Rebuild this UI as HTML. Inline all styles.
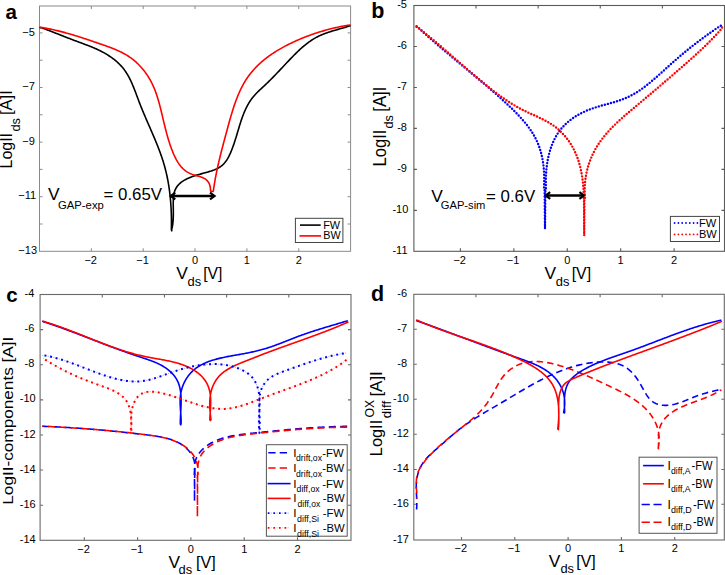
<!DOCTYPE html>
<html><head><meta charset="utf-8"><style>
html,body{margin:0;padding:0;background:#fff;width:725px;height:575px;overflow:hidden;}
svg{display:block;}
text{font-family:"Liberation Sans",sans-serif;fill:#000;}
</style></head><body>
<svg width="725" height="575" viewBox="0 0 725 575">
<rect width="725" height="575" fill="#fff"/>
<rect x="39.5" y="6.0" width="311.10" height="245.30" fill="none" stroke="#8a8a8a" stroke-width="1.0"/>
<path d="M91.35,251.3v-3.0M143.20,251.3v-3.0M195.05,251.3v-3.0M246.90,251.3v-3.0M298.75,251.3v-3.0M91.35,6.0v3.0M143.20,6.0v3.0M195.05,6.0v3.0M246.90,6.0v3.0M298.75,6.0v3.0M39.5,224.00h3.0M350.6,224.00h-3.0M39.5,196.70h3.0M350.6,196.70h-3.0M39.5,169.40h3.0M350.6,169.40h-3.0M39.5,142.10h3.0M350.6,142.10h-3.0M39.5,114.80h3.0M350.6,114.80h-3.0M39.5,87.50h3.0M350.6,87.50h-3.0M39.5,60.20h3.0M350.6,60.20h-3.0M39.5,32.90h3.0M350.6,32.90h-3.0" stroke="#8a8a8a" stroke-width="1.0"/>
<text x="22.35" y="35.50" font-size="11.0">−5</text>
<text x="22.35" y="90.10" font-size="11.0">−7</text>
<text x="22.35" y="144.70" font-size="11.0">−9</text>
<text x="18.35" y="199.30" font-size="11.0">−11</text>
<text x="18.35" y="253.90" font-size="11.0">−13</text>
<text x="90.65" y="263.50" font-size="11.0" text-anchor="middle">−2</text>
<text x="142.50" y="263.50" font-size="11.0" text-anchor="middle">−1</text>
<text x="195.05" y="263.50" font-size="11.0" text-anchor="middle">0</text>
<text x="246.90" y="263.50" font-size="11.0" text-anchor="middle">1</text>
<text x="298.75" y="263.50" font-size="11.0" text-anchor="middle">2</text>
<path d="M39.50,27.80L40.70,27.51 41.65,27.85 42.59,28.18 43.53,28.53 44.47,28.87 45.41,29.22 46.34,29.57 47.28,29.92 48.21,30.27 49.15,30.62 50.08,30.98 51.01,31.34 51.94,31.70 52.87,32.06 53.80,32.42 54.73,32.78 55.66,33.14 56.58,33.51 57.51,33.87 58.44,34.24 59.37,34.60 60.29,34.97 61.22,35.33 62.15,35.70 63.08,36.06 64.01,36.43 64.94,36.79 65.87,37.16 66.80,37.52 67.74,37.88 68.67,38.24 69.61,38.60 70.54,38.96 71.48,39.32 72.42,39.67 73.36,40.03 74.30,40.38 75.25,40.74 76.19,41.09 77.14,41.44 78.08,41.79 79.03,42.15 79.98,42.50 80.92,42.85 81.87,43.21 82.82,43.56 83.77,43.92 84.72,44.28 85.67,44.64 86.62,45.00 87.57,45.36 88.52,45.73 89.47,46.10 90.41,46.48 91.35,46.86 92.30,47.24 93.23,47.63 94.17,48.03 95.10,48.43 96.03,48.84 96.96,49.26 97.88,49.69 98.79,50.12 99.71,50.56 100.61,51.01 101.51,51.47 102.41,51.94 103.29,52.42 104.18,52.90 105.05,53.40 105.92,53.90 106.78,54.41 107.63,54.94 108.48,55.47 109.31,56.01 110.14,56.57 110.96,57.13 111.77,57.70 112.57,58.28 113.36,58.88 114.13,59.48 114.90,60.09 115.66,60.72 116.41,61.35 117.14,62.00 117.86,62.66 118.57,63.33 119.27,64.00 119.95,64.70 120.63,65.40 121.28,66.11 121.93,66.84 122.56,67.58 123.17,68.33 123.77,69.09 124.36,69.86 124.93,70.65 125.49,71.45 126.03,72.25 126.56,73.07 127.07,73.90 127.58,74.74 128.07,75.59 128.55,76.45 129.02,77.32 129.48,78.20 129.93,79.08 130.37,79.97 130.80,80.87 131.22,81.78 131.64,82.69 132.04,83.61 132.44,84.53 132.84,85.46 133.23,86.40 133.61,87.33 133.99,88.28 134.36,89.22 134.73,90.17 135.10,91.13 135.46,92.08 135.82,93.04 136.18,94.00 136.54,94.96 136.90,95.92 137.25,96.88 137.61,97.84 137.97,98.81 138.33,99.77 138.69,100.73 139.05,101.68 139.42,102.64 139.79,103.60 140.16,104.55 140.53,105.50 140.91,106.45 141.29,107.39 141.67,108.34 142.06,109.28 142.44,110.22 142.83,111.16 143.22,112.10 143.62,113.04 144.01,113.97 144.40,114.91 144.80,115.84 145.20,116.77 145.60,117.70 146.00,118.63 146.40,119.56 146.80,120.48 147.20,121.41 147.60,122.34 148.01,123.26 148.41,124.18 148.81,125.11 149.21,126.03 149.62,126.95 150.02,127.87 150.42,128.79 150.82,129.71 151.22,130.64 151.62,131.56 152.02,132.48 152.42,133.40 152.81,134.32 153.20,135.24 153.60,136.16 153.99,137.08 154.38,138.00 154.76,138.92 155.15,139.84 155.53,140.76 155.91,141.69 156.29,142.61 156.66,143.53 157.04,144.46 157.41,145.38 157.77,146.31 158.14,147.24 158.49,148.16 158.85,149.09 159.20,150.02 159.55,150.95 159.90,151.89 160.24,152.82 160.58,153.76 160.91,154.69 161.24,155.63 161.56,156.57 161.88,157.51 162.20,158.45 162.51,159.40 162.81,160.35 163.11,161.29 163.40,162.24 163.69,163.20 163.97,164.15 164.25,165.11 164.52,166.07 164.79,167.03 165.05,167.99 165.30,168.96 165.55,169.93 165.79,170.89 166.03,171.87 166.26,172.84 166.48,173.82 166.70,174.79 166.91,175.77 167.12,176.75 167.32,177.74 167.52,178.72 167.71,179.71 167.90,180.70 168.08,181.68 168.25,182.67 168.42,183.67 168.59,184.66 168.75,185.65 168.90,186.65 169.05,187.65 169.20,188.64 169.34,189.64 169.47,190.64 169.60,191.64 169.73,192.64 169.85,193.65 169.96,194.65 170.07,195.65 170.18,196.66 170.28,197.66 170.38,198.67 170.47,199.67 170.56,200.68 170.64,201.69 170.72,202.69 170.79,203.70 170.86,204.71 170.93,205.71 170.99,206.72 171.05,207.73 171.10,208.74 171.15,209.74 171.20,210.75 171.24,211.76 171.28,212.76 171.31,213.77 171.34,214.78 171.37,215.78 171.39,216.79 171.41,217.79 171.43,218.79 171.44,219.80 171.44,220.80 171.45,221.80 171.45,222.80 171.45,223.80 171.44,224.80 171.43,225.80 171.42,226.79 171.41,227.79 171.39,228.78 171.37,229.77 171.80,230.80L171.80,230.80L171.66,229.52 171.89,228.64 172.10,227.75 172.29,226.85 172.46,225.94 172.61,225.01 172.74,224.08 172.86,223.13 172.96,222.17 173.05,221.21 173.12,220.23 173.18,219.24 173.23,218.24 173.27,217.23 173.30,216.22 173.32,215.19 173.33,214.15 173.33,213.11 173.33,212.05 173.33,210.99 173.31,209.92 173.30,208.84 173.28,207.75 173.27,206.65 173.25,205.55 173.24,204.45 173.23,203.35 173.24,202.25 173.26,201.15 173.29,200.07 173.34,198.99 173.41,197.93 173.50,196.88 173.62,195.85 173.77,194.84 173.95,193.85 174.16,192.89 174.41,191.96 174.70,191.05 175.03,190.18 175.40,189.34 175.81,188.53 176.26,187.75 176.74,187.00 177.25,186.28 177.80,185.58 178.38,184.91 179.00,184.26 179.64,183.64 180.31,183.04 181.01,182.47 181.74,181.92 182.49,181.38 183.27,180.87 184.07,180.38 184.89,179.91 185.73,179.45 186.59,179.01 187.47,178.59 188.37,178.18 189.28,177.79 190.21,177.41 191.15,177.04 192.10,176.69 193.07,176.34 194.04,176.01 195.03,175.68 196.02,175.37 197.02,175.06 198.02,174.76 199.03,174.47 200.04,174.18 201.05,173.89 202.07,173.61 203.08,173.33 204.09,173.05 205.10,172.78 206.11,172.50 207.11,172.22 208.10,171.93 209.09,171.64 210.07,171.34 211.04,171.03 211.99,170.70 212.94,170.37 213.87,170.02 214.79,169.65 215.69,169.26 216.57,168.86 217.44,168.43 218.29,167.98 219.12,167.50 219.92,167.00 220.70,166.47 221.46,165.91 222.20,165.31 222.90,164.68 223.59,164.02 224.24,163.33 224.87,162.60 225.47,161.84 226.05,161.06 226.61,160.25 227.15,159.41 227.67,158.56 228.17,157.68 228.65,156.79 229.11,155.88 229.56,154.96 230.00,154.02 230.42,153.08 230.83,152.13 231.22,151.17 231.61,150.21 231.98,149.24 232.35,148.28 232.71,147.31 233.06,146.34 233.41,145.38 233.75,144.41 234.08,143.44 234.40,142.47 234.72,141.50 235.04,140.53 235.35,139.57 235.65,138.60 235.95,137.63 236.25,136.66 236.55,135.69 236.84,134.73 237.13,133.76 237.42,132.79 237.70,131.83 237.99,130.86 238.28,129.90 238.56,128.94 238.85,127.98 239.14,127.01 239.43,126.06 239.72,125.10 240.02,124.14 240.32,123.19 240.62,122.23 240.93,121.28 241.25,120.33 241.57,119.38 241.89,118.44 242.23,117.50 242.57,116.55 242.92,115.61 243.28,114.68 243.65,113.74 244.02,112.81 244.41,111.89 244.81,110.96 245.22,110.05 245.64,109.13 246.07,108.23 246.51,107.33 246.97,106.44 247.44,105.55 247.92,104.67 248.41,103.80 248.92,102.94 249.44,102.09 249.98,101.25 250.53,100.42 251.10,99.60 251.68,98.79 252.28,97.99 252.90,97.21 253.53,96.44 254.18,95.68 254.84,94.93 255.52,94.19 256.21,93.46 256.92,92.74 257.63,92.03 258.35,91.33 259.08,90.63 259.81,89.94 260.55,89.25 261.29,88.56 262.03,87.87 262.78,87.19 263.52,86.50 264.26,85.81 265.00,85.12 265.74,84.43 266.47,83.73 267.19,83.03 267.92,82.33 268.64,81.63 269.35,80.92 270.07,80.22 270.78,79.51 271.49,78.79 272.19,78.08 272.90,77.36 273.60,76.65 274.30,75.93 275.00,75.21 275.69,74.49 276.39,73.76 277.08,73.04 277.77,72.31 278.46,71.58 279.15,70.85 279.84,70.13 280.53,69.40 281.22,68.67 281.91,67.93 282.59,67.20 283.28,66.47 283.97,65.74 284.66,65.00 285.35,64.27 286.04,63.54 286.73,62.81 287.42,62.07 288.11,61.34 288.80,60.61 289.50,59.88 290.19,59.15 290.89,58.42 291.59,57.69 292.29,56.96 293.00,56.24 293.71,55.51 294.42,54.80 295.13,54.08 295.85,53.37 296.57,52.66 297.29,51.96 298.02,51.26 298.75,50.57 299.48,49.88 300.22,49.20 300.97,48.52 301.72,47.86 302.47,47.20 303.23,46.54 304.00,45.90 304.77,45.26 305.55,44.63 306.33,44.01 307.12,43.40 307.92,42.80 308.72,42.21 309.53,41.63 310.35,41.06 311.17,40.50 312.00,39.95 312.84,39.42 313.69,38.90 314.55,38.39 315.41,37.89 316.28,37.41 317.16,36.94 318.05,36.48 318.95,36.04 319.86,35.62 320.78,35.20 321.70,34.80 322.63,34.41 323.57,34.04 324.51,33.67 325.46,33.32 326.42,32.97 327.38,32.64 328.34,32.31 329.31,31.99 330.28,31.67 331.25,31.37 332.22,31.07 333.20,30.77 334.18,30.48 335.16,30.20 336.13,29.91 337.11,29.63 338.09,29.36 339.06,29.08 340.04,28.81 341.01,28.53 341.98,28.26 342.94,27.98 343.90,27.70 344.85,27.42 345.81,27.14 346.75,26.85 347.69,26.56 348.62,26.27 349.55,25.97 350.60,25.80" fill="none" stroke="#000" stroke-width="1.6" stroke-linejoin="round"/>
<path d="M39.50,27.40L40.46,27.27 41.47,27.43 42.47,27.60 43.48,27.77 44.48,27.95 45.47,28.13 46.47,28.31 47.47,28.50 48.46,28.70 49.45,28.90 50.43,29.10 51.42,29.31 52.40,29.52 53.39,29.74 54.37,29.96 55.34,30.18 56.32,30.41 57.30,30.64 58.27,30.88 59.24,31.12 60.21,31.37 61.18,31.61 62.15,31.87 63.12,32.12 64.08,32.38 65.05,32.64 66.01,32.91 66.97,33.17 67.93,33.44 68.89,33.72 69.85,34.00 70.81,34.27 71.76,34.56 72.72,34.84 73.68,35.13 74.63,35.42 75.58,35.71 76.54,36.01 77.49,36.31 78.44,36.61 79.39,36.91 80.35,37.21 81.30,37.52 82.25,37.83 83.20,38.14 84.15,38.45 85.10,38.76 86.05,39.08 87.00,39.39 87.95,39.71 88.90,40.03 89.85,40.35 90.81,40.68 91.76,41.00 92.71,41.32 93.66,41.65 94.61,41.97 95.57,42.30 96.52,42.63 97.47,42.96 98.43,43.29 99.38,43.62 100.34,43.95 101.30,44.28 102.25,44.61 103.21,44.94 104.17,45.28 105.12,45.62 106.08,45.96 107.03,46.30 107.99,46.64 108.94,46.99 109.89,47.35 110.84,47.71 111.78,48.07 112.72,48.44 113.66,48.82 114.59,49.20 115.52,49.59 116.45,49.98 117.37,50.38 118.29,50.80 119.20,51.21 120.11,51.64 121.01,52.08 121.90,52.53 122.79,52.99 123.67,53.45 124.55,53.93 125.41,54.42 126.27,54.92 127.13,55.44 127.97,55.96 128.80,56.50 129.63,57.06 130.45,57.62 131.25,58.20 132.05,58.80 132.84,59.41 133.62,60.03 134.39,60.66 135.15,61.31 135.90,61.97 136.63,62.64 137.36,63.33 138.08,64.02 138.79,64.73 139.49,65.45 140.18,66.18 140.85,66.92 141.52,67.67 142.18,68.43 142.82,69.19 143.45,69.97 144.08,70.76 144.69,71.56 145.29,72.36 145.88,73.18 146.46,74.00 147.02,74.83 147.58,75.67 148.12,76.51 148.66,77.36 149.18,78.22 149.68,79.09 150.18,79.96 150.66,80.84 151.14,81.72 151.60,82.61 152.04,83.50 152.48,84.40 152.90,85.30 153.31,86.21 153.72,87.12 154.11,88.04 154.49,88.96 154.86,89.89 155.22,90.81 155.57,91.75 155.91,92.68 156.24,93.62 156.57,94.57 156.88,95.51 157.19,96.46 157.50,97.42 157.79,98.37 158.08,99.33 158.36,100.29 158.64,101.26 158.91,102.22 159.18,103.19 159.44,104.16 159.70,105.14 159.95,106.11 160.20,107.09 160.44,108.06 160.69,109.04 160.93,110.02 161.17,111.00 161.40,111.99 161.64,112.97 161.87,113.95 162.10,114.94 162.34,115.92 162.57,116.91 162.80,117.89 163.03,118.88 163.27,119.87 163.50,120.85 163.74,121.84 163.97,122.82 164.21,123.81 164.45,124.79 164.69,125.78 164.93,126.76 165.18,127.74 165.43,128.72 165.68,129.70 165.93,130.68 166.19,131.66 166.45,132.64 166.71,133.61 166.98,134.59 167.25,135.56 167.52,136.53 167.80,137.50 168.09,138.47 168.37,139.43 168.67,140.40 168.97,141.36 169.27,142.32 169.58,143.27 169.90,144.23 170.22,145.18 170.55,146.12 170.88,147.07 171.22,148.01 171.57,148.95 171.93,149.89 172.29,150.82 172.66,151.75 173.04,152.68 173.43,153.60 173.82,154.52 174.23,155.43 174.65,156.33 175.07,157.22 175.52,158.11 175.97,158.98 176.43,159.84 176.92,160.69 177.41,161.53 177.92,162.35 178.45,163.16 178.99,163.95 179.56,164.73 180.14,165.49 180.74,166.23 181.36,166.95 182.00,167.65 182.66,168.32 183.34,168.98 184.04,169.61 184.77,170.22 185.52,170.80 186.30,171.35 187.10,171.88 187.93,172.38 188.78,172.85 189.67,173.30 190.57,173.71 191.51,174.08 192.48,174.43 193.47,174.76 194.47,175.06 195.49,175.35 196.51,175.63 197.54,175.92 198.56,176.20 199.57,176.50 200.56,176.82 201.53,177.16 202.48,177.52 203.39,177.93 204.27,178.37 205.10,178.87 205.88,179.41 206.61,180.02 207.28,180.69 207.89,181.42 208.44,182.21 208.93,183.07 209.35,183.99 209.71,184.97 210.01,186.00 210.23,187.09 210.39,188.24 210.48,189.44 210.49,190.70 210.90,191.40L210.90,191.40L213.10,191.40L213.10,191.40L213.44,190.47 213.58,189.46 213.73,188.44 213.87,187.43 214.02,186.43 214.18,185.42 214.33,184.42 214.49,183.42 214.66,182.43 214.83,181.43 215.00,180.44 215.17,179.45 215.35,178.46 215.53,177.47 215.72,176.48 215.90,175.50 216.09,174.52 216.29,173.54 216.48,172.56 216.68,171.58 216.88,170.61 217.09,169.63 217.29,168.66 217.50,167.69 217.72,166.71 217.93,165.74 218.15,164.78 218.37,163.81 218.59,162.84 218.81,161.87 219.04,160.91 219.27,159.94 219.50,158.98 219.73,158.01 219.96,157.05 220.20,156.09 220.44,155.12 220.68,154.16 220.92,153.20 221.16,152.23 221.41,151.27 221.66,150.31 221.90,149.34 222.15,148.38 222.40,147.42 222.66,146.45 222.91,145.49 223.17,144.52 223.42,143.56 223.68,142.59 223.94,141.63 224.20,140.66 224.46,139.69 224.72,138.72 224.98,137.75 225.24,136.78 225.50,135.81 225.77,134.84 226.03,133.86 226.30,132.88 226.56,131.91 226.83,130.93 227.10,129.95 227.36,128.97 227.63,127.98 227.90,127.00 228.16,126.01 228.43,125.03 228.70,124.04 228.98,123.05 229.25,122.06 229.52,121.07 229.80,120.08 230.08,119.09 230.36,118.10 230.65,117.12 230.93,116.13 231.22,115.14 231.51,114.15 231.81,113.17 232.10,112.19 232.41,111.20 232.71,110.22 233.02,109.24 233.33,108.26 233.65,107.29 233.97,106.32 234.30,105.35 234.63,104.38 234.96,103.41 235.30,102.45 235.65,101.49 236.00,100.53 236.36,99.58 236.72,98.63 237.09,97.69 237.46,96.75 237.84,95.81 238.23,94.88 238.62,93.95 239.02,93.02 239.43,92.10 239.85,91.19 240.27,90.28 240.70,89.38 241.13,88.48 241.58,87.59 242.03,86.70 242.49,85.82 242.96,84.95 243.44,84.08 243.93,83.22 244.42,82.36 244.93,81.51 245.44,80.67 245.97,79.84 246.50,79.01 247.05,78.19 247.60,77.38 248.16,76.57 248.74,75.78 249.32,74.99 249.91,74.21 250.52,73.44 251.13,72.67 251.75,71.92 252.39,71.17 253.03,70.43 253.68,69.69 254.34,68.97 255.01,68.25 255.68,67.53 256.37,66.83 257.07,66.13 257.77,65.44 258.48,64.76 259.20,64.08 259.92,63.42 260.66,62.75 261.40,62.10 262.15,61.45 262.91,60.81 263.67,60.18 264.44,59.55 265.22,58.93 266.00,58.31 266.80,57.71 267.59,57.11 268.40,56.51 269.21,55.92 270.02,55.34 270.84,54.77 271.67,54.20 272.50,53.63 273.34,53.08 274.19,52.53 275.04,51.98 275.89,51.44 276.75,50.91 277.61,50.39 278.48,49.86 279.35,49.35 280.23,48.84 281.11,48.34 282.00,47.84 282.88,47.35 283.78,46.86 284.67,46.38 285.57,45.90 286.48,45.43 287.38,44.97 288.29,44.51 289.20,44.05 290.12,43.60 291.04,43.16 291.96,42.72 292.88,42.28 293.80,41.85 294.73,41.43 295.66,41.01 296.59,40.59 297.52,40.18 298.45,39.78 299.38,39.38 300.32,38.98 301.26,38.59 302.20,38.20 303.14,37.82 304.08,37.44 305.02,37.07 305.96,36.70 306.91,36.34 307.86,35.98 308.80,35.63 309.75,35.28 310.70,34.93 311.65,34.59 312.61,34.26 313.56,33.93 314.51,33.60 315.47,33.28 316.43,32.97 317.38,32.65 318.34,32.35 319.30,32.05 320.26,31.75 321.23,31.46 322.19,31.17 323.15,30.89 324.12,30.61 325.08,30.33 326.05,30.07 327.01,29.80 327.98,29.54 328.95,29.29 329.92,29.04 330.89,28.79 331.86,28.55 332.83,28.32 333.80,28.09 334.78,27.86 335.75,27.64 336.72,27.42 337.70,27.21 338.67,27.00 339.65,26.80 340.62,26.60 341.60,26.41 342.58,26.22 343.56,26.04 344.53,25.86 345.51,25.69 346.49,25.52 347.47,25.36 348.45,25.20 349.43,25.04 350.60,25.20" fill="none" stroke="#f00" stroke-width="1.6" stroke-linejoin="round"/>
<path d="M171.5,196H214" stroke="#000" stroke-width="2.4"/>
<path d="M175.3,192.6L170.7,196L175.3,199.4M210,192.6L214.6,196L210,199.4" fill="none" stroke="#000" stroke-width="2.1"/>
<text x="48.00" y="199.70" font-size="16.8" textLength="11.6" lengthAdjust="spacingAndGlyphs">V</text>
<text x="58.00" y="209.00" font-size="11.2" textLength="45.8" lengthAdjust="spacingAndGlyphs">GAP-exp</text>
<text x="103.50" y="199.70" font-size="16.8" textLength="58.6" lengthAdjust="spacingAndGlyphs">= 0.65V</text>
<rect x="295.4" y="218.3" width="47.5" height="24.2" fill="#fff" stroke="#444" stroke-width="1"/>
<path d="M300,225.1H320.7" stroke="#000" stroke-width="1.6"/>
<path d="M299.5,235.9H321" stroke="#f00" stroke-width="1.6"/>
<text x="323.20" y="228.60" font-size="11.5" textLength="16.9" lengthAdjust="spacingAndGlyphs">FW</text>
<text x="323.20" y="239.30" font-size="11.5" textLength="17.4" lengthAdjust="spacingAndGlyphs">BW</text>
<g transform="translate(12.2,168.5) rotate(-90)">
<text x="0.00" y="0.00" font-size="17" textLength="35.5" lengthAdjust="spacingAndGlyphs">LogII</text>
<text x="36.90" y="7.80" font-size="13" textLength="13.6" lengthAdjust="spacingAndGlyphs">ds</text>
<text x="53.50" y="0.00" font-size="17" textLength="24.8" lengthAdjust="spacingAndGlyphs">[A]I</text>
</g>
<text x="176.30" y="279.30" font-size="16.8" textLength="11.6" lengthAdjust="spacingAndGlyphs">V</text>
<text x="187.60" y="285.60" font-size="13" textLength="13.6" lengthAdjust="spacingAndGlyphs">ds</text>
<text x="203.20" y="279.30" font-size="16.8" textLength="19.2" lengthAdjust="spacingAndGlyphs">[V]</text>
<text x="5.5" y="18.9" font-size="20.5" font-weight="bold">a</text>
<rect x="413.9" y="5.5" width="310.60" height="245.80" fill="none" stroke="#5a5a5a" stroke-width="1.1"/>
<path d="M460.39,251.3v-3.0M513.82,251.3v-3.0M567.25,251.3v-3.0M620.68,251.3v-3.0M674.11,251.3v-3.0M476.02,5.5v3.0M538.14,5.5v3.0M600.26,5.5v3.0M662.38,5.5v3.0M413.9,210.35h3.0M724.5,210.35h-3.0M413.9,169.38h3.0M724.5,169.38h-3.0M413.9,128.41h3.0M724.5,128.41h-3.0M413.9,87.44h3.0M724.5,87.44h-3.0M413.9,46.47h3.0M724.5,46.47h-3.0" stroke="#5a5a5a" stroke-width="1.1"/>
<text x="392.45" y="253.92" font-size="11.0">-11</text>
<text x="392.45" y="212.95" font-size="11.0">-10</text>
<text x="397.15" y="171.98" font-size="11.0">-9</text>
<text x="397.15" y="131.01" font-size="11.0">-8</text>
<text x="397.15" y="90.04" font-size="11.0">-7</text>
<text x="397.15" y="49.07" font-size="11.0">-6</text>
<text x="397.15" y="8.10" font-size="11.0">-5</text>
<text x="459.69" y="263.50" font-size="11.0" text-anchor="middle">−2</text>
<text x="513.12" y="263.50" font-size="11.0" text-anchor="middle">−1</text>
<text x="567.25" y="263.50" font-size="11.0" text-anchor="middle">0</text>
<text x="620.68" y="263.50" font-size="11.0" text-anchor="middle">1</text>
<text x="674.11" y="263.50" font-size="11.0" text-anchor="middle">2</text>
<path d="M416.60,26.80L417.68,27.09 418.42,27.78 419.16,28.47 419.90,29.16 420.64,29.84 421.38,30.53 422.13,31.21 422.88,31.89 423.62,32.57 424.37,33.25 425.12,33.92 425.87,34.60 426.62,35.27 427.38,35.94 428.13,36.61 428.89,37.28 429.64,37.95 430.40,38.62 431.16,39.28 431.92,39.95 432.68,40.61 433.44,41.27 434.20,41.93 434.96,42.59 435.72,43.25 436.49,43.91 437.25,44.57 438.02,45.22 438.78,45.88 439.55,46.53 440.32,47.18 441.08,47.84 441.85,48.49 442.62,49.14 443.39,49.79 444.16,50.44 444.93,51.09 445.70,51.74 446.48,52.38 447.25,53.03 448.02,53.68 448.80,54.32 449.57,54.97 450.34,55.61 451.12,56.26 451.89,56.90 452.67,57.55 453.44,58.19 454.22,58.83 454.99,59.48 455.77,60.12 456.55,60.76 457.32,61.40 458.10,62.05 458.88,62.69 459.65,63.33 460.43,63.97 461.21,64.61 461.99,65.26 462.76,65.90 463.54,66.54 464.32,67.18 465.09,67.82 465.87,68.47 466.65,69.11 467.43,69.75 468.20,70.39 468.98,71.04 469.76,71.68 470.53,72.32 471.31,72.97 472.09,73.61 472.86,74.25 473.64,74.90 474.41,75.54 475.19,76.19 475.96,76.84 476.74,77.48 477.51,78.13 478.28,78.78 479.06,79.43 479.83,80.08 480.60,80.73 481.37,81.38 482.14,82.03 482.91,82.68 483.68,83.34 484.45,83.99 485.22,84.65 485.99,85.30 486.76,85.96 487.52,86.62 488.29,87.27 489.06,87.93 489.82,88.59 490.58,89.26 491.35,89.92 492.11,90.58 492.87,91.25 493.63,91.92 494.39,92.58 495.15,93.25 495.91,93.92 496.67,94.59 497.42,95.27 498.18,95.94 498.93,96.62 499.68,97.29 500.44,97.97 501.19,98.65 501.94,99.33 502.69,100.02 503.43,100.70 504.18,101.39 504.93,102.08 505.67,102.76 506.41,103.46 507.16,104.15 507.90,104.84 508.64,105.54 509.37,106.24 510.11,106.94 510.84,107.64 511.57,108.35 512.30,109.05 513.03,109.76 513.75,110.48 514.47,111.19 515.19,111.91 515.90,112.63 516.61,113.35 517.31,114.08 518.01,114.81 518.71,115.54 519.40,116.28 520.09,117.02 520.76,117.76 521.44,118.51 522.11,119.26 522.77,120.01 523.42,120.77 524.07,121.53 524.71,122.30 525.35,123.07 525.97,123.85 526.59,124.63 527.21,125.42 527.81,126.21 528.40,127.00 528.99,127.80 529.57,128.60 530.14,129.41 530.69,130.23 531.24,131.05 531.78,131.88 532.31,132.71 532.83,133.55 533.34,134.39 533.84,135.24 534.32,136.10 534.80,136.96 535.26,137.82 535.71,138.70 536.15,139.58 536.58,140.47 537.00,141.36 537.40,142.26 537.79,143.17 538.16,144.08 538.53,145.00 538.88,145.93 539.22,146.86 539.54,147.80 539.86,148.75 540.16,149.70 540.45,150.65 540.73,151.61 540.99,152.58 541.25,153.55 541.49,154.53 541.72,155.51 541.95,156.49 542.16,157.48 542.36,158.48 542.54,159.47 542.72,160.47 542.89,161.48 543.04,162.49 543.19,163.50 543.33,164.51 543.45,165.53 543.57,166.55 543.68,167.57 543.77,168.60 543.86,169.62 543.94,170.65 544.01,171.68 544.06,172.71 544.11,173.75 544.16,174.78 544.19,175.82 544.21,176.86 544.23,177.90 544.23,178.93 544.23,179.97 544.22,181.01 544.21,182.05 544.18,183.09 544.15,184.13 544.11,185.17 544.06,186.21 544.00,187.25 543.94,188.29 543.87,189.32 544.60,190.00L544.60,190.00L545.00,228.50 545.40,190.00L545.40,190.00L545.93,188.92 545.89,187.96 545.86,186.99 545.84,186.01 545.82,185.03 545.80,184.05 545.80,183.06 545.80,182.07 545.80,181.08 545.82,180.08 545.84,179.08 545.86,178.08 545.90,177.07 545.94,176.07 545.99,175.06 546.05,174.05 546.11,173.04 546.19,172.02 546.27,171.01 546.36,170.00 546.46,168.98 546.56,167.97 546.68,166.96 546.81,165.95 546.94,164.94 547.08,163.92 547.24,162.92 547.40,161.91 547.57,160.90 547.75,159.90 547.95,158.90 548.15,157.90 548.36,156.91 548.59,155.92 548.82,154.93 549.07,153.95 549.32,152.97 549.59,151.99 549.87,151.02 550.16,150.06 550.46,149.10 550.77,148.14 551.10,147.19 551.44,146.25 551.79,145.31 552.15,144.38 552.53,143.46 552.92,142.54 553.32,141.63 553.73,140.73 554.16,139.83 554.60,138.95 555.06,138.07 555.52,137.20 556.01,136.34 556.50,135.49 557.01,134.65 557.54,133.82 558.08,132.99 558.63,132.18 559.20,131.38 559.78,130.59 560.38,129.81 560.99,129.04 561.62,128.29 562.27,127.54 562.93,126.81 563.60,126.09 564.29,125.37 564.99,124.68 565.71,123.99 566.44,123.31 567.18,122.65 567.93,122.00 568.70,121.35 569.47,120.73 570.26,120.11 571.06,119.50 571.87,118.91 572.69,118.32 573.52,117.75 574.36,117.19 575.21,116.64 576.07,116.10 576.93,115.58 577.81,115.06 578.69,114.56 579.58,114.07 580.48,113.59 581.38,113.12 582.29,112.67 583.21,112.22 584.13,111.79 585.05,111.37 585.99,110.96 586.92,110.56 587.86,110.17 588.81,109.79 589.76,109.43 590.71,109.07 591.66,108.73 592.62,108.39 593.58,108.06 594.55,107.74 595.51,107.43 596.48,107.12 597.45,106.82 598.42,106.53 599.39,106.24 600.36,105.96 601.34,105.68 602.31,105.41 603.28,105.14 604.26,104.87 605.23,104.61 606.20,104.34 607.17,104.08 608.14,103.81 609.11,103.55 610.08,103.28 611.04,103.02 612.01,102.75 612.97,102.47 613.93,102.19 614.88,101.91 615.83,101.62 616.78,101.32 617.73,101.02 618.67,100.71 619.60,100.39 620.53,100.06 621.46,99.72 622.39,99.38 623.31,99.02 624.22,98.65 625.13,98.28 626.03,97.90 626.93,97.50 627.83,97.10 628.72,96.68 629.60,96.25 630.48,95.82 631.36,95.37 632.23,94.91 633.09,94.44 633.95,93.95 634.80,93.46 635.65,92.96 636.49,92.44 637.33,91.91 638.16,91.38 638.99,90.83 639.81,90.28 640.63,89.72 641.44,89.15 642.25,88.57 643.06,87.99 643.86,87.39 644.66,86.79 645.46,86.19 646.25,85.58 647.04,84.96 647.82,84.34 648.61,83.71 649.39,83.08 650.16,82.44 650.94,81.80 651.71,81.15 652.48,80.51 653.25,79.85 654.02,79.20 654.78,78.54 655.55,77.87 656.31,77.21 657.07,76.54 657.83,75.87 658.58,75.20 659.34,74.53 660.10,73.85 660.85,73.17 661.60,72.49 662.36,71.82 663.11,71.14 663.86,70.45 664.61,69.77 665.36,69.09 666.11,68.41 666.87,67.73 667.62,67.05 668.37,66.38 669.12,65.70 669.87,65.02 670.63,64.35 671.38,63.68 672.14,63.01 672.89,62.34 673.65,61.67 674.41,61.01 675.17,60.34 675.93,59.68 676.69,59.02 677.45,58.37 678.21,57.71 678.98,57.06 679.74,56.40 680.51,55.75 681.28,55.11 682.04,54.46 682.81,53.82 683.58,53.17 684.36,52.53 685.13,51.89 685.90,51.26 686.68,50.62 687.45,49.99 688.23,49.36 689.01,48.73 689.79,48.10 690.57,47.48 691.35,46.86 692.14,46.23 692.92,45.62 693.71,45.00 694.50,44.38 695.29,43.77 696.08,43.16 696.87,42.55 697.67,41.94 698.46,41.34 699.26,40.73 700.06,40.13 700.86,39.53 701.66,38.94 702.47,38.34 703.27,37.75 704.08,37.16 704.89,36.57 705.70,35.98 706.51,35.40 707.32,34.82 708.14,34.23 708.95,33.66 709.77,33.08 710.59,32.50 711.42,31.93 712.24,31.36 713.07,30.79 713.90,30.23 714.73,29.66 715.56,29.10 716.39,28.54 717.23,27.98 718.06,27.43 718.90,26.87 719.75,26.32 720.59,25.77 721.80,26.00" fill="none" stroke="#00f" stroke-width="1.0" stroke-opacity="0.18"/>
<path d="M416.60,26.80L417.68,27.09 418.42,27.78 419.16,28.47 419.90,29.16 420.64,29.84 421.38,30.53 422.13,31.21 422.88,31.89 423.62,32.57 424.37,33.25 425.12,33.92 425.87,34.60 426.62,35.27 427.38,35.94 428.13,36.61 428.89,37.28 429.64,37.95 430.40,38.62 431.16,39.28 431.92,39.95 432.68,40.61 433.44,41.27 434.20,41.93 434.96,42.59 435.72,43.25 436.49,43.91 437.25,44.57 438.02,45.22 438.78,45.88 439.55,46.53 440.32,47.18 441.08,47.84 441.85,48.49 442.62,49.14 443.39,49.79 444.16,50.44 444.93,51.09 445.70,51.74 446.48,52.38 447.25,53.03 448.02,53.68 448.80,54.32 449.57,54.97 450.34,55.61 451.12,56.26 451.89,56.90 452.67,57.55 453.44,58.19 454.22,58.83 454.99,59.48 455.77,60.12 456.55,60.76 457.32,61.40 458.10,62.05 458.88,62.69 459.65,63.33 460.43,63.97 461.21,64.61 461.99,65.26 462.76,65.90 463.54,66.54 464.32,67.18 465.09,67.82 465.87,68.47 466.65,69.11 467.43,69.75 468.20,70.39 468.98,71.04 469.76,71.68 470.53,72.32 471.31,72.97 472.09,73.61 472.86,74.25 473.64,74.90 474.41,75.54 475.19,76.19 475.96,76.84 476.74,77.48 477.51,78.13 478.28,78.78 479.06,79.43 479.83,80.08 480.60,80.73 481.37,81.38 482.14,82.03 482.91,82.68 483.68,83.34 484.45,83.99 485.22,84.65 485.99,85.30 486.76,85.96 487.52,86.62 488.29,87.27 489.06,87.93 489.82,88.59 490.58,89.26 491.35,89.92 492.11,90.58 492.87,91.25 493.63,91.92 494.39,92.58 495.15,93.25 495.91,93.92 496.67,94.59 497.42,95.27 498.18,95.94 498.93,96.62 499.68,97.29 500.44,97.97 501.19,98.65 501.94,99.33 502.69,100.02 503.43,100.70 504.18,101.39 504.93,102.08 505.67,102.76 506.41,103.46 507.16,104.15 507.90,104.84 508.64,105.54 509.37,106.24 510.11,106.94 510.84,107.64 511.57,108.35 512.30,109.05 513.03,109.76 513.75,110.48 514.47,111.19 515.19,111.91 515.90,112.63 516.61,113.35 517.31,114.08 518.01,114.81 518.71,115.54 519.40,116.28 520.09,117.02 520.76,117.76 521.44,118.51 522.11,119.26 522.77,120.01 523.42,120.77 524.07,121.53 524.71,122.30 525.35,123.07 525.97,123.85 526.59,124.63 527.21,125.42 527.81,126.21 528.40,127.00 528.99,127.80 529.57,128.60 530.14,129.41 530.69,130.23 531.24,131.05 531.78,131.88 532.31,132.71 532.83,133.55 533.34,134.39 533.84,135.24 534.32,136.10 534.80,136.96 535.26,137.82 535.71,138.70 536.15,139.58 536.58,140.47 537.00,141.36 537.40,142.26 537.79,143.17 538.16,144.08 538.53,145.00 538.88,145.93 539.22,146.86 539.54,147.80 539.86,148.75 540.16,149.70 540.45,150.65 540.73,151.61 540.99,152.58 541.25,153.55 541.49,154.53 541.72,155.51 541.95,156.49 542.16,157.48 542.36,158.48 542.54,159.47 542.72,160.47 542.89,161.48 543.04,162.49 543.19,163.50 543.33,164.51 543.45,165.53 543.57,166.55 543.68,167.57 543.77,168.60 543.86,169.62 543.94,170.65 544.01,171.68 544.06,172.71 544.11,173.75 544.16,174.78 544.19,175.82 544.21,176.86 544.23,177.90 544.23,178.93 544.23,179.97 544.22,181.01 544.21,182.05 544.18,183.09 544.15,184.13 544.11,185.17 544.06,186.21 544.00,187.25 543.94,188.29 543.87,189.32 544.60,190.00L544.60,190.00L545.00,228.50 545.40,190.00L545.40,190.00L545.93,188.92 545.89,187.96 545.86,186.99 545.84,186.01 545.82,185.03 545.80,184.05 545.80,183.06 545.80,182.07 545.80,181.08 545.82,180.08 545.84,179.08 545.86,178.08 545.90,177.07 545.94,176.07 545.99,175.06 546.05,174.05 546.11,173.04 546.19,172.02 546.27,171.01 546.36,170.00 546.46,168.98 546.56,167.97 546.68,166.96 546.81,165.95 546.94,164.94 547.08,163.92 547.24,162.92 547.40,161.91 547.57,160.90 547.75,159.90 547.95,158.90 548.15,157.90 548.36,156.91 548.59,155.92 548.82,154.93 549.07,153.95 549.32,152.97 549.59,151.99 549.87,151.02 550.16,150.06 550.46,149.10 550.77,148.14 551.10,147.19 551.44,146.25 551.79,145.31 552.15,144.38 552.53,143.46 552.92,142.54 553.32,141.63 553.73,140.73 554.16,139.83 554.60,138.95 555.06,138.07 555.52,137.20 556.01,136.34 556.50,135.49 557.01,134.65 557.54,133.82 558.08,132.99 558.63,132.18 559.20,131.38 559.78,130.59 560.38,129.81 560.99,129.04 561.62,128.29 562.27,127.54 562.93,126.81 563.60,126.09 564.29,125.37 564.99,124.68 565.71,123.99 566.44,123.31 567.18,122.65 567.93,122.00 568.70,121.35 569.47,120.73 570.26,120.11 571.06,119.50 571.87,118.91 572.69,118.32 573.52,117.75 574.36,117.19 575.21,116.64 576.07,116.10 576.93,115.58 577.81,115.06 578.69,114.56 579.58,114.07 580.48,113.59 581.38,113.12 582.29,112.67 583.21,112.22 584.13,111.79 585.05,111.37 585.99,110.96 586.92,110.56 587.86,110.17 588.81,109.79 589.76,109.43 590.71,109.07 591.66,108.73 592.62,108.39 593.58,108.06 594.55,107.74 595.51,107.43 596.48,107.12 597.45,106.82 598.42,106.53 599.39,106.24 600.36,105.96 601.34,105.68 602.31,105.41 603.28,105.14 604.26,104.87 605.23,104.61 606.20,104.34 607.17,104.08 608.14,103.81 609.11,103.55 610.08,103.28 611.04,103.02 612.01,102.75 612.97,102.47 613.93,102.19 614.88,101.91 615.83,101.62 616.78,101.32 617.73,101.02 618.67,100.71 619.60,100.39 620.53,100.06 621.46,99.72 622.39,99.38 623.31,99.02 624.22,98.65 625.13,98.28 626.03,97.90 626.93,97.50 627.83,97.10 628.72,96.68 629.60,96.25 630.48,95.82 631.36,95.37 632.23,94.91 633.09,94.44 633.95,93.95 634.80,93.46 635.65,92.96 636.49,92.44 637.33,91.91 638.16,91.38 638.99,90.83 639.81,90.28 640.63,89.72 641.44,89.15 642.25,88.57 643.06,87.99 643.86,87.39 644.66,86.79 645.46,86.19 646.25,85.58 647.04,84.96 647.82,84.34 648.61,83.71 649.39,83.08 650.16,82.44 650.94,81.80 651.71,81.15 652.48,80.51 653.25,79.85 654.02,79.20 654.78,78.54 655.55,77.87 656.31,77.21 657.07,76.54 657.83,75.87 658.58,75.20 659.34,74.53 660.10,73.85 660.85,73.17 661.60,72.49 662.36,71.82 663.11,71.14 663.86,70.45 664.61,69.77 665.36,69.09 666.11,68.41 666.87,67.73 667.62,67.05 668.37,66.38 669.12,65.70 669.87,65.02 670.63,64.35 671.38,63.68 672.14,63.01 672.89,62.34 673.65,61.67 674.41,61.01 675.17,60.34 675.93,59.68 676.69,59.02 677.45,58.37 678.21,57.71 678.98,57.06 679.74,56.40 680.51,55.75 681.28,55.11 682.04,54.46 682.81,53.82 683.58,53.17 684.36,52.53 685.13,51.89 685.90,51.26 686.68,50.62 687.45,49.99 688.23,49.36 689.01,48.73 689.79,48.10 690.57,47.48 691.35,46.86 692.14,46.23 692.92,45.62 693.71,45.00 694.50,44.38 695.29,43.77 696.08,43.16 696.87,42.55 697.67,41.94 698.46,41.34 699.26,40.73 700.06,40.13 700.86,39.53 701.66,38.94 702.47,38.34 703.27,37.75 704.08,37.16 704.89,36.57 705.70,35.98 706.51,35.40 707.32,34.82 708.14,34.23 708.95,33.66 709.77,33.08 710.59,32.50 711.42,31.93 712.24,31.36 713.07,30.79 713.90,30.23 714.73,29.66 715.56,29.10 716.39,28.54 717.23,27.98 718.06,27.43 718.90,26.87 719.75,26.32 720.59,25.77 721.80,26.00" fill="none" stroke="#00f" stroke-width="2.4" stroke-linecap="round" stroke-dasharray="0 3.15"/>
<path d="M416.60,26.20L417.30,27.00 418.09,27.62 418.87,28.23 419.66,28.85 420.45,29.47 421.23,30.10 422.02,30.72 422.80,31.35 423.59,31.97 424.37,32.60 425.15,33.23 425.93,33.86 426.71,34.50 427.49,35.13 428.26,35.77 429.04,36.41 429.82,37.05 430.59,37.69 431.37,38.33 432.14,38.97 432.91,39.62 433.68,40.27 434.46,40.91 435.23,41.56 436.00,42.21 436.77,42.86 437.54,43.51 438.30,44.16 439.07,44.82 439.84,45.47 440.61,46.13 441.37,46.78 442.14,47.44 442.90,48.10 443.67,48.76 444.43,49.41 445.20,50.07 445.96,50.73 446.73,51.39 447.49,52.06 448.25,52.72 449.01,53.38 449.78,54.04 450.54,54.70 451.30,55.37 452.06,56.03 452.83,56.70 453.59,57.36 454.35,58.02 455.11,58.69 455.87,59.35 456.63,60.02 457.39,60.68 458.16,61.35 458.92,62.01 459.68,62.68 460.44,63.34 461.20,64.00 461.96,64.67 462.72,65.33 463.48,66.00 464.25,66.66 465.01,67.32 465.77,67.98 466.53,68.65 467.30,69.31 468.06,69.97 468.82,70.63 469.59,71.29 470.35,71.95 471.11,72.61 471.88,73.27 472.64,73.92 473.41,74.58 474.17,75.24 474.94,75.89 475.71,76.54 476.47,77.20 477.24,77.85 478.01,78.50 478.78,79.15 479.55,79.80 480.32,80.44 481.10,81.09 481.87,81.73 482.64,82.37 483.42,83.01 484.19,83.65 484.97,84.29 485.75,84.92 486.53,85.55 487.31,86.18 488.10,86.81 488.88,87.43 489.67,88.06 490.46,88.68 491.25,89.30 492.04,89.91 492.83,90.52 493.62,91.13 494.42,91.74 495.22,92.34 496.02,92.94 496.82,93.54 497.63,94.13 498.43,94.72 499.24,95.31 500.05,95.89 500.87,96.48 501.68,97.05 502.50,97.62 503.32,98.19 504.15,98.76 504.97,99.32 505.80,99.88 506.63,100.43 507.47,100.98 508.30,101.52 509.14,102.06 509.98,102.60 510.83,103.13 511.68,103.66 512.53,104.18 513.38,104.70 514.24,105.21 515.10,105.72 515.97,106.22 516.84,106.72 517.71,107.21 518.58,107.70 519.46,108.18 520.34,108.66 521.23,109.13 522.12,109.59 523.01,110.05 523.91,110.51 524.81,110.96 525.71,111.40 526.62,111.83 527.53,112.27 528.44,112.69 529.36,113.12 530.28,113.54 531.20,113.95 532.12,114.37 533.05,114.78 533.97,115.20 534.90,115.61 535.82,116.03 536.74,116.44 537.66,116.86 538.58,117.28 539.50,117.71 540.41,118.14 541.32,118.58 542.23,119.02 543.14,119.46 544.04,119.92 544.93,120.38 545.82,120.85 546.70,121.33 547.58,121.82 548.45,122.33 549.31,122.84 550.17,123.36 551.02,123.90 551.86,124.45 552.69,125.01 553.51,125.59 554.33,126.18 555.13,126.79 555.92,127.41 556.71,128.04 557.48,128.68 558.25,129.34 559.00,130.00 559.75,130.68 560.48,131.38 561.21,132.08 561.92,132.79 562.62,133.52 563.31,134.25 563.99,135.00 564.66,135.76 565.31,136.52 565.96,137.30 566.59,138.09 567.21,138.88 567.82,139.69 568.41,140.50 569.00,141.32 569.57,142.15 570.12,142.99 570.67,143.84 571.20,144.69 571.71,145.56 572.22,146.43 572.71,147.30 573.18,148.19 573.65,149.08 574.10,149.97 574.54,150.88 574.96,151.79 575.38,152.70 575.78,153.62 576.17,154.55 576.54,155.48 576.91,156.42 577.26,157.36 577.60,158.31 577.94,159.26 578.26,160.21 578.57,161.17 578.86,162.14 579.15,163.11 579.43,164.08 579.70,165.05 579.95,166.03 580.20,167.01 580.44,168.00 580.67,168.98 580.89,169.97 581.09,170.97 581.30,171.96 581.49,172.96 581.67,173.95 581.84,174.95 582.01,175.95 582.17,176.96 582.31,177.96 582.46,178.96 582.59,179.97 582.71,180.97 582.83,181.98 582.94,182.98 583.05,183.99 583.14,184.99 583.23,186.00 583.32,187.00 583.39,188.00 583.47,189.00 583.53,190.00 583.59,191.00 583.64,192.00 583.69,192.99 583.73,193.99 583.77,194.98 583.80,195.97 583.82,196.95 583.84,197.94 583.86,198.92 584.00,200.00L584.00,200.00L584.20,235.60 584.40,200.00L584.40,200.00L585.15,199.42 585.05,198.35 584.96,197.29 584.89,196.23 584.82,195.17 584.77,194.11 584.73,193.05 584.71,192.00 584.70,190.95 584.69,189.90 584.71,188.86 584.73,187.82 584.77,186.78 584.82,185.74 584.88,184.71 584.95,183.68 585.04,182.65 585.14,181.63 585.25,180.61 585.37,179.59 585.50,178.58 585.65,177.57 585.81,176.56 585.98,175.56 586.16,174.56 586.35,173.57 586.55,172.58 586.77,171.59 587.00,170.61 587.24,169.63 587.49,168.66 587.75,167.69 588.02,166.73 588.30,165.77 588.60,164.81 588.90,163.86 589.22,162.92 589.55,161.98 589.89,161.04 590.24,160.11 590.60,159.18 590.97,158.26 591.35,157.35 591.74,156.44 592.15,155.53 592.56,154.63 592.99,153.74 593.42,152.85 593.86,151.97 594.32,151.09 594.78,150.22 595.26,149.35 595.75,148.49 596.24,147.64 596.75,146.79 597.26,145.95 597.79,145.12 598.32,144.29 598.87,143.47 599.42,142.65 599.98,141.84 600.55,141.04 601.13,140.24 601.72,139.44 602.32,138.65 602.93,137.87 603.54,137.09 604.16,136.32 604.79,135.55 605.43,134.79 606.07,134.03 606.72,133.28 607.38,132.53 608.04,131.79 608.71,131.05 609.39,130.31 610.07,129.58 610.76,128.85 611.46,128.13 612.16,127.41 612.86,126.69 613.58,125.98 614.29,125.27 615.01,124.57 615.74,123.87 616.47,123.17 617.20,122.47 617.94,121.78 618.68,121.09 619.43,120.40 620.18,119.72 620.93,119.04 621.69,118.36 622.45,117.68 623.21,117.01 623.98,116.33 624.74,115.66 625.51,114.99 626.28,114.33 627.06,113.66 627.83,113.00 628.61,112.34 629.39,111.68 630.16,111.02 630.94,110.36 631.73,109.70 632.51,109.05 633.29,108.39 634.07,107.74 634.85,107.08 635.63,106.43 636.42,105.78 637.20,105.13 637.98,104.48 638.76,103.82 639.53,103.17 640.31,102.52 641.09,101.87 641.87,101.22 642.64,100.57 643.42,99.92 644.19,99.27 644.97,98.62 645.74,97.97 646.51,97.32 647.29,96.67 648.06,96.02 648.83,95.37 649.60,94.72 650.37,94.07 651.14,93.42 651.91,92.77 652.68,92.12 653.44,91.47 654.21,90.82 654.98,90.17 655.74,89.52 656.51,88.87 657.28,88.22 658.04,87.57 658.81,86.92 659.57,86.26 660.34,85.61 661.10,84.96 661.86,84.31 662.63,83.66 663.39,83.01 664.15,82.36 664.91,81.70 665.67,81.05 666.44,80.40 667.20,79.75 667.96,79.09 668.72,78.44 669.48,77.79 670.24,77.13 671.00,76.48 671.76,75.82 672.52,75.17 673.28,74.51 674.04,73.86 674.80,73.20 675.56,72.54 676.31,71.88 677.07,71.23 677.83,70.57 678.59,69.91 679.35,69.25 680.11,68.59 680.87,67.93 681.62,67.27 682.38,66.61 683.14,65.95 683.90,65.28 684.66,64.62 685.41,63.96 686.17,63.29 686.93,62.63 687.68,61.96 688.44,61.29 689.20,60.62 689.95,59.95 690.70,59.28 691.46,58.61 692.21,57.94 692.96,57.27 693.71,56.59 694.46,55.91 695.20,55.24 695.95,54.56 696.70,53.88 697.44,53.20 698.18,52.51 698.92,51.83 699.66,51.14 700.40,50.45 701.13,49.76 701.87,49.07 702.60,48.38 703.33,47.68 704.06,46.99 704.79,46.29 705.51,45.59 706.23,44.88 706.95,44.18 707.67,43.47 708.38,42.76 709.10,42.05 709.81,41.34 710.52,40.62 711.22,39.91 711.92,39.19 712.62,38.46 713.32,37.74 714.01,37.01 714.70,36.28 715.39,35.55 716.08,34.81 716.76,34.08 717.44,33.34 718.11,32.59 718.78,31.85 719.45,31.10 720.12,30.35 720.78,29.59 721.44,28.84 722.09,28.08 722.00,26.80" fill="none" stroke="#f00" stroke-width="1.0" stroke-opacity="0.18"/>
<path d="M416.60,26.20L417.30,27.00 418.09,27.62 418.87,28.23 419.66,28.85 420.45,29.47 421.23,30.10 422.02,30.72 422.80,31.35 423.59,31.97 424.37,32.60 425.15,33.23 425.93,33.86 426.71,34.50 427.49,35.13 428.26,35.77 429.04,36.41 429.82,37.05 430.59,37.69 431.37,38.33 432.14,38.97 432.91,39.62 433.68,40.27 434.46,40.91 435.23,41.56 436.00,42.21 436.77,42.86 437.54,43.51 438.30,44.16 439.07,44.82 439.84,45.47 440.61,46.13 441.37,46.78 442.14,47.44 442.90,48.10 443.67,48.76 444.43,49.41 445.20,50.07 445.96,50.73 446.73,51.39 447.49,52.06 448.25,52.72 449.01,53.38 449.78,54.04 450.54,54.70 451.30,55.37 452.06,56.03 452.83,56.70 453.59,57.36 454.35,58.02 455.11,58.69 455.87,59.35 456.63,60.02 457.39,60.68 458.16,61.35 458.92,62.01 459.68,62.68 460.44,63.34 461.20,64.00 461.96,64.67 462.72,65.33 463.48,66.00 464.25,66.66 465.01,67.32 465.77,67.98 466.53,68.65 467.30,69.31 468.06,69.97 468.82,70.63 469.59,71.29 470.35,71.95 471.11,72.61 471.88,73.27 472.64,73.92 473.41,74.58 474.17,75.24 474.94,75.89 475.71,76.54 476.47,77.20 477.24,77.85 478.01,78.50 478.78,79.15 479.55,79.80 480.32,80.44 481.10,81.09 481.87,81.73 482.64,82.37 483.42,83.01 484.19,83.65 484.97,84.29 485.75,84.92 486.53,85.55 487.31,86.18 488.10,86.81 488.88,87.43 489.67,88.06 490.46,88.68 491.25,89.30 492.04,89.91 492.83,90.52 493.62,91.13 494.42,91.74 495.22,92.34 496.02,92.94 496.82,93.54 497.63,94.13 498.43,94.72 499.24,95.31 500.05,95.89 500.87,96.48 501.68,97.05 502.50,97.62 503.32,98.19 504.15,98.76 504.97,99.32 505.80,99.88 506.63,100.43 507.47,100.98 508.30,101.52 509.14,102.06 509.98,102.60 510.83,103.13 511.68,103.66 512.53,104.18 513.38,104.70 514.24,105.21 515.10,105.72 515.97,106.22 516.84,106.72 517.71,107.21 518.58,107.70 519.46,108.18 520.34,108.66 521.23,109.13 522.12,109.59 523.01,110.05 523.91,110.51 524.81,110.96 525.71,111.40 526.62,111.83 527.53,112.27 528.44,112.69 529.36,113.12 530.28,113.54 531.20,113.95 532.12,114.37 533.05,114.78 533.97,115.20 534.90,115.61 535.82,116.03 536.74,116.44 537.66,116.86 538.58,117.28 539.50,117.71 540.41,118.14 541.32,118.58 542.23,119.02 543.14,119.46 544.04,119.92 544.93,120.38 545.82,120.85 546.70,121.33 547.58,121.82 548.45,122.33 549.31,122.84 550.17,123.36 551.02,123.90 551.86,124.45 552.69,125.01 553.51,125.59 554.33,126.18 555.13,126.79 555.92,127.41 556.71,128.04 557.48,128.68 558.25,129.34 559.00,130.00 559.75,130.68 560.48,131.38 561.21,132.08 561.92,132.79 562.62,133.52 563.31,134.25 563.99,135.00 564.66,135.76 565.31,136.52 565.96,137.30 566.59,138.09 567.21,138.88 567.82,139.69 568.41,140.50 569.00,141.32 569.57,142.15 570.12,142.99 570.67,143.84 571.20,144.69 571.71,145.56 572.22,146.43 572.71,147.30 573.18,148.19 573.65,149.08 574.10,149.97 574.54,150.88 574.96,151.79 575.38,152.70 575.78,153.62 576.17,154.55 576.54,155.48 576.91,156.42 577.26,157.36 577.60,158.31 577.94,159.26 578.26,160.21 578.57,161.17 578.86,162.14 579.15,163.11 579.43,164.08 579.70,165.05 579.95,166.03 580.20,167.01 580.44,168.00 580.67,168.98 580.89,169.97 581.09,170.97 581.30,171.96 581.49,172.96 581.67,173.95 581.84,174.95 582.01,175.95 582.17,176.96 582.31,177.96 582.46,178.96 582.59,179.97 582.71,180.97 582.83,181.98 582.94,182.98 583.05,183.99 583.14,184.99 583.23,186.00 583.32,187.00 583.39,188.00 583.47,189.00 583.53,190.00 583.59,191.00 583.64,192.00 583.69,192.99 583.73,193.99 583.77,194.98 583.80,195.97 583.82,196.95 583.84,197.94 583.86,198.92 584.00,200.00L584.00,200.00L584.20,235.60 584.40,200.00L584.40,200.00L585.15,199.42 585.05,198.35 584.96,197.29 584.89,196.23 584.82,195.17 584.77,194.11 584.73,193.05 584.71,192.00 584.70,190.95 584.69,189.90 584.71,188.86 584.73,187.82 584.77,186.78 584.82,185.74 584.88,184.71 584.95,183.68 585.04,182.65 585.14,181.63 585.25,180.61 585.37,179.59 585.50,178.58 585.65,177.57 585.81,176.56 585.98,175.56 586.16,174.56 586.35,173.57 586.55,172.58 586.77,171.59 587.00,170.61 587.24,169.63 587.49,168.66 587.75,167.69 588.02,166.73 588.30,165.77 588.60,164.81 588.90,163.86 589.22,162.92 589.55,161.98 589.89,161.04 590.24,160.11 590.60,159.18 590.97,158.26 591.35,157.35 591.74,156.44 592.15,155.53 592.56,154.63 592.99,153.74 593.42,152.85 593.86,151.97 594.32,151.09 594.78,150.22 595.26,149.35 595.75,148.49 596.24,147.64 596.75,146.79 597.26,145.95 597.79,145.12 598.32,144.29 598.87,143.47 599.42,142.65 599.98,141.84 600.55,141.04 601.13,140.24 601.72,139.44 602.32,138.65 602.93,137.87 603.54,137.09 604.16,136.32 604.79,135.55 605.43,134.79 606.07,134.03 606.72,133.28 607.38,132.53 608.04,131.79 608.71,131.05 609.39,130.31 610.07,129.58 610.76,128.85 611.46,128.13 612.16,127.41 612.86,126.69 613.58,125.98 614.29,125.27 615.01,124.57 615.74,123.87 616.47,123.17 617.20,122.47 617.94,121.78 618.68,121.09 619.43,120.40 620.18,119.72 620.93,119.04 621.69,118.36 622.45,117.68 623.21,117.01 623.98,116.33 624.74,115.66 625.51,114.99 626.28,114.33 627.06,113.66 627.83,113.00 628.61,112.34 629.39,111.68 630.16,111.02 630.94,110.36 631.73,109.70 632.51,109.05 633.29,108.39 634.07,107.74 634.85,107.08 635.63,106.43 636.42,105.78 637.20,105.13 637.98,104.48 638.76,103.82 639.53,103.17 640.31,102.52 641.09,101.87 641.87,101.22 642.64,100.57 643.42,99.92 644.19,99.27 644.97,98.62 645.74,97.97 646.51,97.32 647.29,96.67 648.06,96.02 648.83,95.37 649.60,94.72 650.37,94.07 651.14,93.42 651.91,92.77 652.68,92.12 653.44,91.47 654.21,90.82 654.98,90.17 655.74,89.52 656.51,88.87 657.28,88.22 658.04,87.57 658.81,86.92 659.57,86.26 660.34,85.61 661.10,84.96 661.86,84.31 662.63,83.66 663.39,83.01 664.15,82.36 664.91,81.70 665.67,81.05 666.44,80.40 667.20,79.75 667.96,79.09 668.72,78.44 669.48,77.79 670.24,77.13 671.00,76.48 671.76,75.82 672.52,75.17 673.28,74.51 674.04,73.86 674.80,73.20 675.56,72.54 676.31,71.88 677.07,71.23 677.83,70.57 678.59,69.91 679.35,69.25 680.11,68.59 680.87,67.93 681.62,67.27 682.38,66.61 683.14,65.95 683.90,65.28 684.66,64.62 685.41,63.96 686.17,63.29 686.93,62.63 687.68,61.96 688.44,61.29 689.20,60.62 689.95,59.95 690.70,59.28 691.46,58.61 692.21,57.94 692.96,57.27 693.71,56.59 694.46,55.91 695.20,55.24 695.95,54.56 696.70,53.88 697.44,53.20 698.18,52.51 698.92,51.83 699.66,51.14 700.40,50.45 701.13,49.76 701.87,49.07 702.60,48.38 703.33,47.68 704.06,46.99 704.79,46.29 705.51,45.59 706.23,44.88 706.95,44.18 707.67,43.47 708.38,42.76 709.10,42.05 709.81,41.34 710.52,40.62 711.22,39.91 711.92,39.19 712.62,38.46 713.32,37.74 714.01,37.01 714.70,36.28 715.39,35.55 716.08,34.81 716.76,34.08 717.44,33.34 718.11,32.59 718.78,31.85 719.45,31.10 720.12,30.35 720.78,29.59 721.44,28.84 722.09,28.08 722.00,26.80" fill="none" stroke="#f00" stroke-width="2.4" stroke-linecap="round" stroke-dasharray="0 3.15"/>
<path d="M546.5,195.5H583" stroke="#000" stroke-width="2.4"/>
<path d="M550.2,192.1L545.6,195.5L550.2,198.9M579.4,192.1L584,195.5L579.4,198.9" fill="none" stroke="#000" stroke-width="2.1"/>
<text x="431.20" y="201.90" font-size="16.8" textLength="11.6" lengthAdjust="spacingAndGlyphs">V</text>
<text x="440.80" y="209.10" font-size="11.2" textLength="44.6" lengthAdjust="spacingAndGlyphs">GAP-sim</text>
<text x="486.00" y="201.90" font-size="16.8" textLength="49.2" lengthAdjust="spacingAndGlyphs">= 0.6V</text>
<rect x="670.4" y="216.4" width="49.1" height="25.1" fill="#fff" stroke="#444" stroke-width="1"/>
<path d="M674.6,223H697.5" stroke="#00f" stroke-width="1.8" stroke-linecap="round" stroke-dasharray="0 3.8"/>
<path d="M674.6,234.4H697.5" stroke="#f00" stroke-width="1.8" stroke-linecap="round" stroke-dasharray="0 3.8"/>
<text x="699.00" y="226.60" font-size="11.0" textLength="17.3" lengthAdjust="spacingAndGlyphs">FW</text>
<text x="699.00" y="237.50" font-size="11.0" textLength="17.8" lengthAdjust="spacingAndGlyphs">BW</text>
<g transform="translate(385.7,166.4) rotate(-90)">
<text x="0.00" y="0.00" font-size="17.5" textLength="36.8" lengthAdjust="spacingAndGlyphs">LogII</text>
<text x="37.90" y="6.80" font-size="12.5" textLength="13.3" lengthAdjust="spacingAndGlyphs">ds</text>
<text x="54.70" y="0.00" font-size="17.5" textLength="25.1" lengthAdjust="spacingAndGlyphs">[A]I</text>
</g>
<text x="544.60" y="278.70" font-size="16.8" textLength="11.6" lengthAdjust="spacingAndGlyphs">V</text>
<text x="555.80" y="285.70" font-size="13" textLength="13.6" lengthAdjust="spacingAndGlyphs">ds</text>
<text x="571.70" y="278.70" font-size="16.8" textLength="19.4" lengthAdjust="spacingAndGlyphs">[V]</text>
<text x="371.2" y="18.1" font-size="21.5" font-weight="bold">b</text>
<rect x="40.1" y="294.5" width="310.90" height="245.80" fill="none" stroke="#6a6a6a" stroke-width="1.1"/>
<path d="M84.30,540.3v-3.0M137.60,540.3v-3.0M190.90,540.3v-3.0M244.20,540.3v-3.0M297.50,540.3v-3.0M102.28,294.5v3.0M164.46,294.5v3.0M226.64,294.5v3.0M288.82,294.5v3.0M40.1,505.18h3.0M351.0,505.18h-3.0M40.1,470.07h3.0M351.0,470.07h-3.0M40.1,434.96h3.0M351.0,434.96h-3.0M40.1,399.84h3.0M351.0,399.84h-3.0M40.1,364.73h3.0M351.0,364.73h-3.0M40.1,329.61h3.0M351.0,329.61h-3.0" stroke="#6a6a6a" stroke-width="1.1"/>
<text x="24.55" y="297.10" font-size="11.0">-4</text>
<text x="24.55" y="332.21" font-size="11.0">-6</text>
<text x="24.55" y="367.33" font-size="11.0">-8</text>
<text x="19.85" y="402.44" font-size="11.0">-10</text>
<text x="19.85" y="437.56" font-size="11.0">-12</text>
<text x="19.85" y="472.67" font-size="11.0">-14</text>
<text x="19.85" y="507.78" font-size="11.0">-16</text>
<text x="19.85" y="542.90" font-size="11.0">-14</text>
<text x="83.60" y="552.50" font-size="11.0" text-anchor="middle">−2</text>
<text x="136.90" y="552.50" font-size="11.0" text-anchor="middle">−1</text>
<text x="190.90" y="552.50" font-size="11.0" text-anchor="middle">0</text>
<text x="244.20" y="552.50" font-size="11.0" text-anchor="middle">1</text>
<text x="297.50" y="552.50" font-size="11.0" text-anchor="middle">2</text>
<path d="M42.30,426.20L43.09,426.31 44.13,426.35 45.17,426.39 46.21,426.43 47.24,426.47 48.28,426.52 49.31,426.56 50.34,426.61 51.37,426.65 52.40,426.70 53.43,426.75 54.45,426.80 55.48,426.85 56.50,426.90 57.52,426.95 58.54,427.00 59.56,427.05 60.58,427.11 61.60,427.16 62.62,427.22 63.63,427.27 64.65,427.33 65.66,427.39 66.67,427.45 67.68,427.51 68.69,427.57 69.70,427.63 70.71,427.70 71.72,427.76 72.73,427.82 73.73,427.89 74.74,427.96 75.74,428.02 76.75,428.09 77.75,428.16 78.75,428.23 79.75,428.30 80.75,428.37 81.75,428.44 82.76,428.52 83.76,428.59 84.75,428.67 85.75,428.74 86.75,428.82 87.75,428.90 88.75,428.98 89.74,429.05 90.74,429.13 91.74,429.22 92.74,429.30 93.73,429.38 94.73,429.46 95.72,429.55 96.72,429.63 97.72,429.72 98.71,429.81 99.71,429.89 100.70,429.98 101.70,430.07 102.70,430.16 103.69,430.25 104.69,430.35 105.68,430.44 106.68,430.53 107.68,430.63 108.67,430.72 109.67,430.82 110.67,430.92 111.67,431.01 112.66,431.11 113.66,431.21 114.66,431.31 115.66,431.41 116.66,431.52 117.66,431.62 118.66,431.72 119.66,431.83 120.66,431.93 121.67,432.04 122.67,432.14 123.67,432.25 124.68,432.36 125.68,432.47 126.69,432.58 127.69,432.69 128.70,432.80 129.71,432.92 130.72,433.03 131.73,433.14 132.74,433.26 133.75,433.38 134.77,433.49 135.78,433.61 136.79,433.73 137.81,433.85 138.83,433.97 139.85,434.09 140.87,434.21 141.89,434.33 142.91,434.46 143.93,434.58 144.96,434.70 145.98,434.83 147.01,434.96 148.04,435.08 149.07,435.21 150.10,435.34 151.13,435.48 152.15,435.61 153.18,435.75 154.21,435.90 155.24,436.05 156.26,436.21 157.28,436.37 158.30,436.54 159.31,436.71 160.33,436.89 161.33,437.09 162.34,437.29 163.33,437.50 164.33,437.72 165.32,437.95 166.30,438.19 167.27,438.44 168.24,438.71 169.20,438.99 170.16,439.28 171.10,439.59 172.04,439.91 172.97,440.24 173.89,440.60 174.80,440.96 175.70,441.35 176.58,441.75 177.46,442.17 178.33,442.61 179.19,443.07 180.03,443.55 180.86,444.05 181.68,444.56 182.48,445.10 183.27,445.67 184.05,446.25 184.82,446.86 185.56,447.49 186.29,448.14 187.01,448.82 187.70,449.52 188.37,450.24 189.02,450.99 189.64,451.75 190.23,452.54 190.80,453.35 191.34,454.18 191.84,455.03 192.31,455.90 192.75,456.79 193.15,457.70 193.51,458.64 193.83,459.59 194.12,460.55 194.36,461.54 194.56,462.54 194.72,463.55 194.84,464.58 194.92,465.62 194.96,466.67 194.96,467.73 194.92,468.80 194.83,469.88 194.70,470.96 194.53,472.05 194.32,473.14 194.07,474.23 194.50,475.00L194.50,475.00L194.50,501.10 194.70,475.00" fill="none" stroke="#00f" stroke-width="1.6" stroke-linejoin="round" stroke-dasharray="7 4.3"/>
<path d="M347.10,426.10L346.30,426.37 345.26,426.39 344.22,426.40 343.19,426.42 342.15,426.44 341.12,426.46 340.09,426.49 339.05,426.51 338.03,426.54 337.00,426.57 335.97,426.60 334.95,426.63 333.93,426.67 332.90,426.70 331.88,426.74 330.87,426.78 329.85,426.82 328.83,426.86 327.82,426.90 326.80,426.95 325.79,426.99 324.78,427.04 323.77,427.09 322.76,427.14 321.75,427.19 320.74,427.24 319.73,427.30 318.73,427.36 317.72,427.41 316.72,427.47 315.71,427.53 314.71,427.59 313.71,427.65 312.71,427.72 311.71,427.78 310.71,427.85 309.71,427.92 308.71,427.99 307.71,428.06 306.71,428.13 305.71,428.20 304.72,428.27 303.72,428.35 302.72,428.42 301.73,428.50 300.73,428.58 299.73,428.65 298.74,428.73 297.74,428.81 296.75,428.90 295.75,428.98 294.76,429.06 293.76,429.15 292.77,429.23 291.77,429.32 290.78,429.40 289.78,429.49 288.79,429.58 287.79,429.67 286.80,429.76 285.80,429.85 284.81,429.94 283.81,430.04 282.81,430.13 281.82,430.22 280.82,430.32 279.82,430.42 278.82,430.51 277.82,430.61 276.82,430.71 275.82,430.80 274.82,430.90 273.82,431.00 272.82,431.10 271.82,431.20 270.81,431.30 269.81,431.40 268.80,431.51 267.80,431.61 266.79,431.71 265.78,431.82 264.78,431.92 263.77,432.02 262.76,432.13 261.74,432.23 260.73,432.34 259.72,432.44 258.70,432.55 257.69,432.66 256.67,432.76 255.65,432.87 254.63,432.98 253.61,433.08 252.59,433.19 251.56,433.30 250.54,433.41 249.51,433.52 248.49,433.63 247.46,433.74 246.43,433.85 245.40,433.97 244.38,434.09 243.35,434.21 242.33,434.34 241.30,434.47 240.28,434.60 239.26,434.74 238.24,434.89 237.22,435.04 236.21,435.20 235.19,435.36 234.19,435.53 233.18,435.71 232.18,435.90 231.18,436.09 230.19,436.30 229.20,436.51 228.21,436.73 227.23,436.96 226.25,437.20 225.28,437.46 224.32,437.72 223.36,437.99 222.41,438.28 221.46,438.58 220.52,438.89 219.59,439.22 218.67,439.56 217.75,439.91 216.84,440.28 215.94,440.66 215.04,441.06 214.16,441.47 213.28,441.90 212.41,442.34 211.56,442.80 210.71,443.28 209.87,443.78 209.04,444.29 208.22,444.83 207.42,445.38 206.62,445.95 205.83,446.54 205.06,447.15 204.30,447.78 203.56,448.43 202.84,449.10 202.13,449.79 201.45,450.50 200.78,451.23 200.15,451.98 199.53,452.75 198.95,453.54 198.39,454.35 197.87,455.18 197.37,456.03 196.91,456.90 196.49,457.79 196.10,458.70 195.75,459.63 195.45,460.58 195.18,461.55 194.95,462.54 194.76,463.54 194.61,464.56 194.51,465.59 194.44,466.64 194.41,467.70 194.43,468.77 194.48,469.85 194.58,470.94 194.72,472.03 194.90,473.14 195.12,474.25 194.70,475.00" fill="none" stroke="#00f" stroke-width="1.6" stroke-linejoin="round" stroke-dasharray="7 4.3"/>
<path d="M42.30,426.20L43.04,426.17 44.09,426.23 45.13,426.29 46.17,426.34 47.21,426.40 48.25,426.46 49.29,426.52 50.32,426.57 51.35,426.63 52.38,426.69 53.41,426.75 54.44,426.81 55.46,426.87 56.48,426.92 57.51,426.98 58.53,427.04 59.55,427.10 60.56,427.16 61.58,427.22 62.59,427.29 63.61,427.35 64.62,427.41 65.63,427.47 66.64,427.53 67.65,427.60 68.66,427.66 69.66,427.72 70.67,427.79 71.67,427.85 72.67,427.91 73.68,427.98 74.68,428.05 75.68,428.11 76.68,428.18 77.67,428.25 78.67,428.31 79.67,428.38 80.67,428.45 81.66,428.52 82.66,428.59 83.65,428.66 84.64,428.73 85.64,428.80 86.63,428.88 87.62,428.95 88.61,429.02 89.61,429.10 90.60,429.17 91.59,429.25 92.58,429.32 93.57,429.40 94.56,429.48 95.55,429.56 96.54,429.64 97.53,429.72 98.52,429.80 99.51,429.88 100.50,429.96 101.49,430.04 102.48,430.13 103.47,430.21 104.46,430.30 105.45,430.38 106.44,430.47 107.43,430.56 108.42,430.65 109.42,430.74 110.41,430.83 111.40,430.92 112.39,431.02 113.39,431.11 114.38,431.20 115.38,431.30 116.37,431.40 117.37,431.49 118.37,431.59 119.36,431.69 120.36,431.79 121.36,431.90 122.36,432.00 123.36,432.10 124.36,432.21 125.37,432.31 126.37,432.42 127.37,432.53 128.38,432.64 129.39,432.75 130.40,432.86 131.40,432.98 132.42,433.09 133.43,433.20 134.44,433.32 135.45,433.44 136.47,433.56 137.49,433.68 138.51,433.80 139.53,433.92 140.55,434.05 141.57,434.17 142.60,434.30 143.62,434.43 144.65,434.56 145.68,434.69 146.71,434.82 147.74,434.96 148.77,435.10 149.80,435.24 150.83,435.39 151.86,435.54 152.89,435.70 153.91,435.86 154.94,436.02 155.96,436.20 156.98,436.37 158.00,436.56 159.02,436.75 160.03,436.95 161.03,437.15 162.04,437.37 163.03,437.59 164.03,437.82 165.02,438.06 166.00,438.31 166.98,438.58 167.95,438.85 168.91,439.13 169.87,439.42 170.82,439.73 171.77,440.04 172.70,440.37 173.63,440.72 174.55,441.07 175.46,441.44 176.36,441.82 177.26,442.22 178.14,442.63 179.01,443.06 179.87,443.50 180.72,443.96 181.56,444.43 182.39,444.92 183.21,445.43 184.01,445.96 184.80,446.50 185.58,447.06 186.34,447.64 187.09,448.24 187.82,448.85 188.53,449.49 189.22,450.14 189.89,450.82 190.54,451.51 191.17,452.22 191.78,452.95 192.37,453.70 192.93,454.47 193.46,455.27 193.97,456.08 194.46,456.92 194.91,457.77 195.34,458.65 195.74,459.55 196.11,460.47 196.44,461.41 196.75,462.38 197.02,463.37 197.25,464.38 197.45,465.41 197.62,466.47 197.75,467.55 197.84,468.66 197.89,469.79 197.91,470.94 197.88,472.12 197.82,473.32 197.71,474.55 197.40,475.00L197.40,475.00L197.40,516.80 197.60,475.00" fill="none" stroke="#f00" stroke-width="1.6" stroke-linejoin="round" stroke-dasharray="7 4.3" stroke-dashoffset="5.6"/>
<path d="M347.10,426.90L346.27,427.14 345.24,427.15 344.20,427.17 343.17,427.19 342.14,427.21 341.12,427.23 340.09,427.25 339.06,427.28 338.04,427.30 337.02,427.33 336.00,427.36 334.98,427.39 333.96,427.42 332.94,427.46 331.93,427.49 330.91,427.53 329.90,427.57 328.88,427.61 327.87,427.65 326.86,427.69 325.85,427.74 324.84,427.78 323.84,427.83 322.83,427.88 321.82,427.93 320.82,427.98 319.81,428.03 318.81,428.08 317.81,428.14 316.81,428.20 315.81,428.25 314.80,428.31 313.80,428.37 312.80,428.43 311.81,428.50 310.81,428.56 309.81,428.63 308.81,428.69 307.82,428.76 306.82,428.83 305.82,428.90 304.83,428.97 303.83,429.04 302.84,429.11 301.84,429.19 300.85,429.26 299.85,429.34 298.86,429.42 297.86,429.49 296.87,429.57 295.87,429.65 294.88,429.74 293.89,429.82 292.89,429.90 291.90,429.98 290.90,430.07 289.91,430.16 288.91,430.24 287.92,430.33 286.92,430.42 285.93,430.51 284.93,430.60 283.94,430.69 282.94,430.78 281.94,430.87 280.95,430.97 279.95,431.06 278.95,431.16 277.95,431.25 276.95,431.35 275.95,431.45 274.95,431.54 273.95,431.64 272.95,431.74 271.95,431.84 270.95,431.94 269.94,432.04 268.94,432.14 267.93,432.25 266.93,432.35 265.92,432.45 264.91,432.56 263.90,432.66 262.89,432.77 261.88,432.87 260.87,432.98 259.86,433.08 258.84,433.19 257.83,433.30 256.81,433.41 255.80,433.52 254.78,433.62 253.76,433.73 252.74,433.84 251.72,433.96 250.69,434.07 249.67,434.19 248.65,434.31 247.63,434.43 246.61,434.55 245.59,434.68 244.57,434.81 243.56,434.95 242.54,435.09 241.53,435.24 240.51,435.40 239.51,435.56 238.50,435.72 237.49,435.89 236.49,436.07 235.50,436.26 234.50,436.46 233.51,436.66 232.52,436.87 231.54,437.09 230.56,437.32 229.59,437.56 228.62,437.81 227.66,438.08 226.70,438.35 225.75,438.63 224.80,438.93 223.86,439.23 222.93,439.55 222.00,439.88 221.08,440.23 220.16,440.59 219.26,440.96 218.36,441.35 217.46,441.75 216.58,442.17 215.71,442.60 214.84,443.05 213.98,443.51 213.13,443.99 212.29,444.49 211.46,445.01 210.64,445.54 209.83,446.09 209.03,446.66 208.25,447.25 207.49,447.86 206.74,448.49 206.02,449.14 205.31,449.81 204.63,450.50 203.98,451.22 203.35,451.95 202.75,452.71 202.17,453.50 201.63,454.31 201.13,455.14 200.66,456.00 200.22,456.88 199.82,457.79 199.46,458.72 199.13,459.68 198.84,460.65 198.58,461.64 198.36,462.65 198.16,463.67 198.00,464.70 197.88,465.74 197.78,466.80 197.71,467.85 197.67,468.92 197.66,469.98 197.67,471.05 197.72,472.11 197.79,473.18 197.88,474.24 197.60,475.00" fill="none" stroke="#f00" stroke-width="1.6" stroke-linejoin="round" stroke-dasharray="7 4.3"/>
<path d="M42.30,321.10L43.01,321.57 44.00,321.89 44.98,322.21 45.96,322.53 46.94,322.85 47.92,323.18 48.90,323.50 49.87,323.83 50.84,324.16 51.81,324.49 52.78,324.82 53.75,325.15 54.72,325.49 55.68,325.82 56.64,326.16 57.60,326.50 58.56,326.84 59.52,327.18 60.48,327.52 61.43,327.86 62.39,328.20 63.34,328.55 64.29,328.89 65.24,329.24 66.19,329.59 67.14,329.94 68.09,330.29 69.03,330.64 69.98,330.99 70.92,331.34 71.87,331.69 72.81,332.04 73.75,332.40 74.69,332.75 75.63,333.11 76.57,333.46 77.51,333.82 78.45,334.17 79.38,334.53 80.32,334.89 81.26,335.25 82.19,335.60 83.13,335.96 84.06,336.32 85.00,336.68 85.93,337.04 86.87,337.40 87.80,337.76 88.74,338.12 89.67,338.48 90.60,338.84 91.54,339.20 92.47,339.56 93.40,339.92 94.34,340.28 95.27,340.64 96.20,341.00 97.14,341.36 98.07,341.72 99.01,342.08 99.94,342.44 100.88,342.80 101.81,343.16 102.75,343.52 103.68,343.88 104.62,344.24 105.56,344.59 106.49,344.95 107.43,345.31 108.37,345.66 109.31,346.02 110.25,346.38 111.19,346.73 112.13,347.08 113.08,347.44 114.02,347.79 114.96,348.14 115.91,348.49 116.85,348.84 117.80,349.19 118.75,349.54 119.70,349.89 120.65,350.23 121.60,350.58 122.56,350.93 123.51,351.27 124.47,351.61 125.42,351.95 126.38,352.29 127.34,352.63 128.30,352.97 129.26,353.31 130.23,353.65 131.19,353.98 132.16,354.31 133.13,354.64 134.10,354.98 135.07,355.30 136.05,355.63 137.02,355.96 138.00,356.28 138.98,356.61 139.96,356.93 140.94,357.25 141.93,357.57 142.91,357.90 143.89,358.22 144.87,358.55 145.85,358.87 146.83,359.21 147.81,359.54 148.78,359.89 149.75,360.23 150.71,360.58 151.67,360.94 152.63,361.31 153.58,361.69 154.52,362.07 155.46,362.46 156.39,362.87 157.31,363.28 158.22,363.71 159.13,364.14 160.02,364.59 160.91,365.06 161.78,365.53 162.64,366.03 163.50,366.53 164.34,367.06 165.16,367.59 165.98,368.15 166.78,368.72 167.56,369.31 168.33,369.91 169.08,370.53 169.82,371.16 170.54,371.81 171.23,372.48 171.91,373.16 172.57,373.86 173.21,374.58 173.82,375.31 174.41,376.05 174.98,376.82 175.52,377.59 176.04,378.39 176.53,379.20 177.00,380.03 177.44,380.87 177.85,381.73 178.23,382.61 178.58,383.50 178.91,384.41 179.20,385.33 179.48,386.26 179.72,387.21 179.95,388.17 180.15,389.14 180.32,390.12 180.48,391.12 180.62,392.12 180.74,393.13 180.84,394.14 180.92,395.17 180.99,396.20 181.04,397.23 181.08,398.27 181.10,399.32 181.12,400.37 181.12,401.42 181.11,402.47 181.09,403.52 181.07,404.57 181.03,405.63 180.99,406.68 180.95,407.73 180.90,408.78 180.85,409.82 180.80,410.86 180.74,411.90 180.68,412.93 180.63,413.95 180.58,414.97 180.52,415.97 180.48,416.97 180.44,417.96 180.40,418.94 180.37,419.91 180.34,420.87 180.33,421.82 180.32,422.75 180.33,423.67 180.60,424.80L180.80,424.80L181.06,423.68 181.09,422.73 181.10,421.77 181.10,420.81 181.08,419.83 181.05,418.85 181.01,417.87 180.96,416.87 180.90,415.88 180.84,414.87 180.77,413.86 180.70,412.85 180.63,411.84 180.55,410.82 180.48,409.79 180.41,408.77 180.35,407.74 180.29,406.71 180.24,405.68 180.20,404.66 180.17,403.63 180.15,402.60 180.14,401.57 180.15,400.54 180.18,399.52 180.23,398.49 180.29,397.47 180.38,396.46 180.48,395.44 180.62,394.43 180.78,393.43 180.96,392.43 181.17,391.44 181.40,390.45 181.66,389.47 181.94,388.50 182.24,387.54 182.57,386.58 182.92,385.64 183.29,384.70 183.68,383.78 184.10,382.87 184.54,381.96 185.00,381.08 185.48,380.20 185.97,379.34 186.49,378.49 187.03,377.66 187.59,376.85 188.17,376.05 188.76,375.26 189.37,374.50 190.01,373.75 190.65,373.02 191.32,372.31 192.00,371.63 192.70,370.96 193.41,370.31 194.14,369.68 194.89,369.07 195.65,368.48 196.42,367.91 197.21,367.35 198.01,366.82 198.83,366.30 199.66,365.79 200.50,365.31 201.35,364.84 202.21,364.38 203.09,363.94 203.98,363.52 204.87,363.11 205.78,362.71 206.70,362.32 207.62,361.95 208.56,361.60 209.50,361.25 210.45,360.91 211.41,360.59 212.38,360.28 213.35,359.98 214.33,359.68 215.31,359.40 216.31,359.13 217.30,358.86 218.31,358.61 219.31,358.36 220.32,358.12 221.34,357.88 222.36,357.66 223.38,357.44 224.40,357.22 225.43,357.01 226.45,356.81 227.48,356.61 228.51,356.41 229.54,356.22 230.57,356.03 231.61,355.84 232.64,355.66 233.67,355.48 234.69,355.30 235.72,355.12 236.74,354.94 237.77,354.76 238.78,354.59 239.80,354.41 240.81,354.23 241.82,354.05 242.82,353.87 243.82,353.68 244.82,353.50 245.81,353.31 246.79,353.11 247.77,352.92 248.75,352.72 249.72,352.52 250.69,352.31 251.65,352.11 252.61,351.89 253.57,351.68 254.52,351.46 255.48,351.23 256.43,351.01 257.38,350.77 258.32,350.54 259.27,350.29 260.21,350.05 261.15,349.79 262.09,349.54 263.03,349.27 263.96,349.01 264.90,348.73 265.84,348.45 266.78,348.17 267.71,347.88 268.65,347.58 269.59,347.27 270.53,346.96 271.46,346.64 272.40,346.32 273.35,345.99 274.29,345.65 275.23,345.31 276.17,344.96 277.12,344.61 278.07,344.26 279.01,343.90 279.96,343.53 280.91,343.16 281.85,342.79 282.80,342.42 283.75,342.05 284.70,341.67 285.65,341.30 286.60,340.92 287.55,340.54 288.50,340.16 289.46,339.78 290.41,339.41 291.36,339.03 292.31,338.65 293.26,338.28 294.22,337.91 295.17,337.54 296.12,337.18 297.07,336.82 298.03,336.46 298.98,336.10 299.93,335.75 300.88,335.41 301.84,335.06 302.79,334.72 303.74,334.39 304.69,334.05 305.64,333.72 306.60,333.39 307.55,333.07 308.50,332.75 309.46,332.43 310.41,332.11 311.36,331.80 312.32,331.48 313.27,331.17 314.22,330.87 315.18,330.56 316.13,330.26 317.09,329.95 318.04,329.65 319.00,329.36 319.96,329.06 320.91,328.76 321.87,328.47 322.83,328.18 323.79,327.88 324.74,327.59 325.70,327.30 326.66,327.01 327.62,326.73 328.58,326.44 329.55,326.15 330.51,325.87 331.47,325.58 332.43,325.29 333.40,325.01 334.36,324.72 335.33,324.44 336.30,324.15 337.26,323.86 338.23,323.58 339.20,323.29 340.17,323.00 341.14,322.71 342.11,322.43 343.08,322.14 344.06,321.85 345.03,321.55 346.01,321.26 346.98,320.97 348.00,321.00" fill="none" stroke="#00f" stroke-width="1.6" stroke-linejoin="round"/>
<path d="M42.30,320.80L43.00,321.29 43.99,321.58 44.98,321.88 45.96,322.18 46.95,322.48 47.93,322.78 48.91,323.09 49.89,323.40 50.86,323.72 51.83,324.04 52.81,324.36 53.77,324.68 54.74,325.01 55.71,325.34 56.67,325.67 57.63,326.01 58.59,326.34 59.55,326.68 60.51,327.03 61.47,327.37 62.42,327.72 63.37,328.06 64.32,328.41 65.27,328.77 66.22,329.12 67.17,329.48 68.12,329.83 69.06,330.19 70.01,330.55 70.95,330.91 71.89,331.28 72.83,331.64 73.77,332.01 74.71,332.37 75.65,332.74 76.59,333.11 77.52,333.48 78.46,333.85 79.39,334.22 80.33,334.59 81.26,334.96 82.20,335.33 83.13,335.70 84.06,336.07 84.99,336.45 85.93,336.82 86.86,337.19 87.79,337.56 88.72,337.93 89.65,338.31 90.58,338.68 91.51,339.05 92.44,339.42 93.37,339.79 94.31,340.16 95.24,340.52 96.17,340.89 97.10,341.26 98.03,341.62 98.96,341.99 99.89,342.35 100.83,342.71 101.76,343.07 102.69,343.43 103.63,343.79 104.56,344.14 105.50,344.50 106.43,344.85 107.37,345.20 108.31,345.55 109.25,345.89 110.19,346.24 111.13,346.58 112.07,346.92 113.01,347.26 113.95,347.59 114.90,347.92 115.84,348.25 116.79,348.58 117.74,348.91 118.69,349.23 119.64,349.54 120.59,349.86 121.54,350.17 122.49,350.48 123.45,350.79 124.41,351.09 125.37,351.39 126.33,351.68 127.29,351.98 128.25,352.26 129.22,352.55 130.19,352.83 131.16,353.10 132.13,353.38 133.10,353.64 134.08,353.91 135.06,354.17 136.03,354.42 137.02,354.67 138.00,354.92 138.99,355.16 139.98,355.40 140.97,355.63 141.96,355.86 142.95,356.08 143.95,356.30 144.95,356.51 145.96,356.72 146.96,356.92 147.97,357.12 148.98,357.31 149.99,357.51 151.00,357.69 152.01,357.88 153.03,358.06 154.04,358.24 155.06,358.43 156.07,358.61 157.09,358.79 158.10,358.97 159.12,359.15 160.13,359.33 161.15,359.51 162.16,359.70 163.17,359.88 164.18,360.08 165.18,360.27 166.19,360.47 167.19,360.67 168.19,360.87 169.19,361.09 170.18,361.30 171.17,361.53 172.16,361.76 173.14,361.99 174.12,362.24 175.10,362.49 176.07,362.75 177.04,363.01 178.00,363.29 178.95,363.58 179.91,363.87 180.85,364.18 181.79,364.50 182.72,364.83 183.65,365.17 184.57,365.52 185.49,365.89 186.39,366.26 187.29,366.66 188.19,367.06 189.07,367.48 189.95,367.92 190.82,368.37 191.68,368.84 192.53,369.32 193.37,369.82 194.21,370.33 195.03,370.87 195.85,371.42 196.65,371.99 197.44,372.57 198.22,373.18 198.98,373.80 199.72,374.44 200.45,375.10 201.16,375.77 201.85,376.47 202.52,377.18 203.16,377.91 203.78,378.66 204.38,379.43 204.95,380.21 205.50,381.02 206.02,381.84 206.50,382.68 206.96,383.54 207.39,384.41 207.79,385.30 208.17,386.21 208.51,387.13 208.83,388.07 209.12,389.02 209.38,389.98 209.62,390.96 209.83,391.94 210.01,392.94 210.17,393.94 210.31,394.96 210.42,395.98 210.51,397.01 210.58,398.05 210.63,399.09 210.67,400.14 210.69,401.18 210.69,402.24 210.68,403.29 210.66,404.34 210.63,405.39 210.59,406.44 210.54,407.49 210.49,408.53 210.43,409.57 210.36,410.60 210.30,411.63 210.23,412.65 210.16,413.66 210.09,414.66 210.03,415.65 209.97,416.63 209.91,417.60 209.86,418.55 209.82,419.49 210.20,420.50L210.40,420.50L210.97,419.63 210.84,418.65 210.71,417.66 210.59,416.66 210.47,415.65 210.36,414.63 210.26,413.60 210.16,412.57 210.07,411.53 209.99,410.49 209.92,409.45 209.86,408.40 209.81,407.35 209.78,406.30 209.76,405.25 209.75,404.20 209.76,403.15 209.78,402.10 209.82,401.06 209.87,400.02 209.95,398.98 210.04,397.95 210.15,396.93 210.28,395.91 210.44,394.90 210.61,393.90 210.81,392.91 211.03,391.93 211.27,390.96 211.54,390.00 211.83,389.05 212.14,388.12 212.47,387.19 212.83,386.28 213.21,385.38 213.61,384.50 214.03,383.63 214.48,382.77 214.94,381.93 215.43,381.11 215.95,380.30 216.48,379.50 217.04,378.73 217.62,377.97 218.22,377.23 218.84,376.50 219.49,375.80 220.16,375.11 220.85,374.44 221.56,373.80 222.29,373.17 223.04,372.55 223.80,371.96 224.59,371.38 225.39,370.81 226.21,370.26 227.05,369.73 227.90,369.21 228.76,368.70 229.63,368.20 230.52,367.72 231.42,367.25 232.33,366.78 233.24,366.33 234.17,365.89 235.10,365.45 236.04,365.03 236.99,364.61 237.94,364.19 238.90,363.79 239.86,363.38 240.82,362.99 241.79,362.60 242.75,362.21 243.72,361.82 244.68,361.44 245.65,361.05 246.61,360.67 247.57,360.29 248.52,359.91 249.48,359.53 250.43,359.15 251.38,358.78 252.33,358.40 253.28,358.02 254.22,357.65 255.17,357.28 256.11,356.90 257.06,356.53 258.00,356.16 258.94,355.79 259.88,355.43 260.82,355.06 261.77,354.69 262.71,354.33 263.65,353.97 264.59,353.61 265.53,353.25 266.48,352.89 267.42,352.54 268.36,352.18 269.31,351.83 270.25,351.48 271.20,351.13 272.14,350.78 273.09,350.43 274.03,350.08 274.98,349.73 275.92,349.39 276.87,349.04 277.82,348.70 278.76,348.35 279.71,348.01 280.66,347.67 281.61,347.33 282.55,346.99 283.50,346.65 284.45,346.31 285.40,345.97 286.34,345.63 287.29,345.29 288.24,344.95 289.19,344.62 290.14,344.28 291.09,343.94 292.03,343.60 292.98,343.27 293.93,342.93 294.88,342.59 295.83,342.25 296.78,341.92 297.73,341.58 298.67,341.24 299.62,340.90 300.57,340.57 301.52,340.23 302.47,339.89 303.42,339.55 304.36,339.21 305.31,338.87 306.26,338.53 307.21,338.19 308.16,337.85 309.10,337.50 310.05,337.16 311.00,336.81 311.94,336.47 312.89,336.12 313.84,335.78 314.78,335.43 315.73,335.08 316.67,334.73 317.62,334.38 318.56,334.03 319.51,333.67 320.45,333.32 321.40,332.96 322.34,332.60 323.28,332.24 324.23,331.88 325.17,331.52 326.11,331.16 327.05,330.79 327.99,330.42 328.94,330.06 329.88,329.69 330.82,329.31 331.76,328.94 332.69,328.56 333.63,328.19 334.57,327.81 335.51,327.42 336.45,327.04 337.38,326.65 338.32,326.27 339.25,325.88 340.19,325.48 341.12,325.09 342.06,324.69 342.99,324.29 343.92,323.89 344.85,323.49 345.78,323.08 346.71,322.67 347.64,322.26 348.40,321.60" fill="none" stroke="#f00" stroke-width="1.6" stroke-linejoin="round"/>
<path d="M42.30,355.50L43.18,355.23 44.20,355.39 45.21,355.57 46.22,355.75 47.22,355.95 48.22,356.15 49.22,356.36 50.21,356.58 51.20,356.80 52.18,357.04 53.16,357.28 54.14,357.53 55.12,357.78 56.09,358.04 57.06,358.31 58.03,358.58 58.99,358.86 59.95,359.15 60.91,359.44 61.87,359.74 62.82,360.04 63.78,360.35 64.73,360.66 65.68,360.98 66.62,361.30 67.57,361.63 68.51,361.95 69.46,362.29 70.40,362.62 71.34,362.96 72.28,363.31 73.21,363.65 74.15,364.00 75.09,364.35 76.02,364.71 76.96,365.06 77.89,365.42 78.82,365.78 79.76,366.14 80.69,366.50 81.63,366.86 82.56,367.23 83.49,367.59 84.43,367.96 85.36,368.32 86.30,368.69 87.23,369.05 88.17,369.42 89.10,369.78 90.04,370.14 90.98,370.50 91.92,370.86 92.86,371.22 93.80,371.58 94.75,371.93 95.69,372.29 96.64,372.64 97.59,372.98 98.54,373.33 99.49,373.67 100.45,374.01 101.41,374.35 102.37,374.68 103.33,375.01 104.29,375.33 105.26,375.65 106.23,375.96 107.20,376.27 108.18,376.58 109.16,376.88 110.14,377.18 111.12,377.46 112.11,377.75 113.09,378.02 114.08,378.29 115.07,378.55 116.06,378.80 117.06,379.04 118.05,379.28 119.05,379.50 120.04,379.71 121.04,379.92 122.04,380.11 123.03,380.30 124.03,380.47 125.03,380.63 126.02,380.78 127.02,380.91 128.01,381.03 129.01,381.14 130.00,381.24 130.99,381.32 131.99,381.38 132.98,381.44 133.96,381.47 134.95,381.49 135.93,381.50 136.91,381.48 137.89,381.45 138.87,381.41 139.84,381.34 140.81,381.26 141.78,381.16 142.74,381.04 143.71,380.90 144.67,380.75 145.62,380.58 146.58,380.39 147.53,380.19 148.48,379.98 149.43,379.75 150.37,379.51 151.32,379.26 152.26,379.00 153.21,378.73 154.15,378.44 155.09,378.15 156.04,377.85 156.98,377.55 157.92,377.23 158.86,376.91 159.81,376.58 160.75,376.25 161.69,375.92 162.64,375.58 163.59,375.24 164.54,374.89 165.49,374.55 166.44,374.20 167.39,373.86 168.35,373.51 169.31,373.17 170.27,372.83 171.23,372.49 172.20,372.15 173.17,371.82 174.14,371.50 175.12,371.17 176.09,370.86 177.07,370.54 178.06,370.24 179.04,369.93 180.03,369.63 181.02,369.34 182.01,369.05 183.01,368.77 184.00,368.50 185.00,368.23 186.00,367.97 187.00,367.71 188.00,367.46 189.01,367.22 190.01,366.99 191.02,366.76 192.02,366.54 193.03,366.33 194.04,366.13 195.05,365.93 196.06,365.75 197.07,365.57 198.08,365.40 199.09,365.24 200.10,365.09 201.11,364.95 202.12,364.81 203.13,364.69 204.14,364.58 205.15,364.48 206.16,364.38 207.17,364.30 208.18,364.23 209.18,364.17 210.19,364.12 211.20,364.08 212.20,364.06 213.20,364.04 214.20,364.04 215.20,364.05 216.20,364.07 217.20,364.11 218.19,364.16 219.19,364.22 220.18,364.29 221.16,364.38 222.15,364.48 223.14,364.59 224.12,364.72 225.10,364.86 226.07,365.01 227.05,365.18 228.02,365.37 228.99,365.57 229.95,365.78 230.91,366.01 231.87,366.26 232.83,366.52 233.78,366.79 234.73,367.09 235.67,367.39 236.61,367.72 237.55,368.06 238.48,368.42 239.41,368.79 240.33,369.19 241.24,369.60 242.14,370.03 243.04,370.48 243.92,370.94 244.78,371.43 245.63,371.94 246.46,372.47 247.27,373.02 248.07,373.60 248.84,374.19 249.58,374.81 250.31,375.46 251.00,376.12 251.67,376.81 252.31,377.53 252.92,378.27 253.49,379.03 254.04,379.82 254.56,380.63 255.05,381.46 255.51,382.31 255.95,383.18 256.36,384.07 256.74,384.97 257.09,385.89 257.42,386.82 257.72,387.77 258.00,388.73 258.26,389.70 258.49,390.68 258.69,391.67 258.87,392.67 259.03,393.68 259.17,394.69 259.29,395.71 259.39,396.74 259.47,397.77 259.53,398.80 259.58,399.84 259.61,400.89 259.63,401.93 259.64,402.98 259.63,404.03 259.62,405.09 259.59,406.14 259.56,407.19 259.52,408.25 259.48,409.30 259.43,410.35 259.37,411.40 259.32,412.45 259.26,413.49 259.21,414.53 259.15,415.57 259.10,416.60 259.05,417.63 259.01,418.66 258.97,419.67 258.94,420.68 258.92,421.68 258.90,422.68 258.90,423.67 258.91,424.65 258.93,425.61 258.96,426.57 259.01,427.52 259.08,428.46 259.16,429.39 259.26,430.30 259.38,431.20 259.53,432.09 259.30,433.40L259.50,433.40L259.35,432.18 259.47,431.26 259.56,430.33 259.64,429.38 259.70,428.44 259.75,427.48 259.78,426.51 259.80,425.54 259.81,424.56 259.81,423.57 259.79,422.58 259.78,421.58 259.75,420.57 259.71,419.56 259.67,418.54 259.63,417.51 259.59,416.48 259.54,415.45 259.49,414.41 259.44,413.37 259.39,412.32 259.34,411.27 259.30,410.21 259.26,409.15 259.23,408.09 259.20,407.03 259.18,405.96 259.17,404.90 259.18,403.84 259.19,402.78 259.22,401.72 259.27,400.67 259.33,399.63 259.41,398.59 259.51,397.57 259.63,396.55 259.77,395.54 259.94,394.54 260.13,393.56 260.35,392.59 260.60,391.63 260.87,390.70 261.18,389.77 261.52,388.87 261.89,387.98 262.30,387.12 262.73,386.27 263.20,385.44 263.69,384.64 264.22,383.85 264.77,383.09 265.36,382.34 265.97,381.62 266.61,380.92 267.27,380.25 267.96,379.59 268.68,378.96 269.42,378.36 270.18,377.77 270.97,377.22 271.79,376.68 272.62,376.17 273.48,375.69 274.35,375.22 275.24,374.77 276.15,374.35 277.07,373.93 278.01,373.53 278.95,373.14 279.90,372.77 280.86,372.40 281.83,372.04 282.80,371.68 283.77,371.33 284.74,370.98 285.71,370.63 286.68,370.28 287.65,369.93 288.62,369.58 289.58,369.23 290.55,368.88 291.51,368.53 292.48,368.18 293.44,367.83 294.40,367.49 295.36,367.14 296.32,366.80 297.28,366.46 298.24,366.11 299.20,365.77 300.16,365.44 301.12,365.10 302.08,364.76 303.04,364.43 303.99,364.10 304.95,363.77 305.91,363.44 306.87,363.12 307.82,362.79 308.78,362.47 309.74,362.15 310.69,361.84 311.65,361.53 312.61,361.22 313.57,360.91 314.53,360.61 315.49,360.31 316.45,360.01 317.41,359.71 318.37,359.42 319.33,359.14 320.29,358.85 321.25,358.57 322.22,358.30 323.18,358.03 324.14,357.76 325.11,357.49 326.08,357.23 327.05,356.98 328.02,356.73 328.99,356.48 329.96,356.24 330.93,356.01 331.91,355.77 332.88,355.55 333.86,355.33 334.84,355.11 335.82,354.90 336.80,354.69 337.78,354.49 338.77,354.30 339.76,354.11 340.75,353.93 341.74,353.75 342.73,353.58 343.73,353.42 344.72,353.26 345.72,353.10 346.80,353.80" fill="none" stroke="#00f" stroke-width="0.9" stroke-opacity="0.35" stroke-dasharray="0 2.15 1.4 2.15" stroke-dashoffset="2.5"/>
<path d="M42.30,355.50L43.18,355.23 44.20,355.39 45.21,355.57 46.22,355.75 47.22,355.95 48.22,356.15 49.22,356.36 50.21,356.58 51.20,356.80 52.18,357.04 53.16,357.28 54.14,357.53 55.12,357.78 56.09,358.04 57.06,358.31 58.03,358.58 58.99,358.86 59.95,359.15 60.91,359.44 61.87,359.74 62.82,360.04 63.78,360.35 64.73,360.66 65.68,360.98 66.62,361.30 67.57,361.63 68.51,361.95 69.46,362.29 70.40,362.62 71.34,362.96 72.28,363.31 73.21,363.65 74.15,364.00 75.09,364.35 76.02,364.71 76.96,365.06 77.89,365.42 78.82,365.78 79.76,366.14 80.69,366.50 81.63,366.86 82.56,367.23 83.49,367.59 84.43,367.96 85.36,368.32 86.30,368.69 87.23,369.05 88.17,369.42 89.10,369.78 90.04,370.14 90.98,370.50 91.92,370.86 92.86,371.22 93.80,371.58 94.75,371.93 95.69,372.29 96.64,372.64 97.59,372.98 98.54,373.33 99.49,373.67 100.45,374.01 101.41,374.35 102.37,374.68 103.33,375.01 104.29,375.33 105.26,375.65 106.23,375.96 107.20,376.27 108.18,376.58 109.16,376.88 110.14,377.18 111.12,377.46 112.11,377.75 113.09,378.02 114.08,378.29 115.07,378.55 116.06,378.80 117.06,379.04 118.05,379.28 119.05,379.50 120.04,379.71 121.04,379.92 122.04,380.11 123.03,380.30 124.03,380.47 125.03,380.63 126.02,380.78 127.02,380.91 128.01,381.03 129.01,381.14 130.00,381.24 130.99,381.32 131.99,381.38 132.98,381.44 133.96,381.47 134.95,381.49 135.93,381.50 136.91,381.48 137.89,381.45 138.87,381.41 139.84,381.34 140.81,381.26 141.78,381.16 142.74,381.04 143.71,380.90 144.67,380.75 145.62,380.58 146.58,380.39 147.53,380.19 148.48,379.98 149.43,379.75 150.37,379.51 151.32,379.26 152.26,379.00 153.21,378.73 154.15,378.44 155.09,378.15 156.04,377.85 156.98,377.55 157.92,377.23 158.86,376.91 159.81,376.58 160.75,376.25 161.69,375.92 162.64,375.58 163.59,375.24 164.54,374.89 165.49,374.55 166.44,374.20 167.39,373.86 168.35,373.51 169.31,373.17 170.27,372.83 171.23,372.49 172.20,372.15 173.17,371.82 174.14,371.50 175.12,371.17 176.09,370.86 177.07,370.54 178.06,370.24 179.04,369.93 180.03,369.63 181.02,369.34 182.01,369.05 183.01,368.77 184.00,368.50 185.00,368.23 186.00,367.97 187.00,367.71 188.00,367.46 189.01,367.22 190.01,366.99 191.02,366.76 192.02,366.54 193.03,366.33 194.04,366.13 195.05,365.93 196.06,365.75 197.07,365.57 198.08,365.40 199.09,365.24 200.10,365.09 201.11,364.95 202.12,364.81 203.13,364.69 204.14,364.58 205.15,364.48 206.16,364.38 207.17,364.30 208.18,364.23 209.18,364.17 210.19,364.12 211.20,364.08 212.20,364.06 213.20,364.04 214.20,364.04 215.20,364.05 216.20,364.07 217.20,364.11 218.19,364.16 219.19,364.22 220.18,364.29 221.16,364.38 222.15,364.48 223.14,364.59 224.12,364.72 225.10,364.86 226.07,365.01 227.05,365.18 228.02,365.37 228.99,365.57 229.95,365.78 230.91,366.01 231.87,366.26 232.83,366.52 233.78,366.79 234.73,367.09 235.67,367.39 236.61,367.72 237.55,368.06 238.48,368.42 239.41,368.79 240.33,369.19 241.24,369.60 242.14,370.03 243.04,370.48 243.92,370.94 244.78,371.43 245.63,371.94 246.46,372.47 247.27,373.02 248.07,373.60 248.84,374.19 249.58,374.81 250.31,375.46 251.00,376.12 251.67,376.81 252.31,377.53 252.92,378.27 253.49,379.03 254.04,379.82 254.56,380.63 255.05,381.46 255.51,382.31 255.95,383.18 256.36,384.07 256.74,384.97 257.09,385.89 257.42,386.82 257.72,387.77 258.00,388.73 258.26,389.70 258.49,390.68 258.69,391.67 258.87,392.67 259.03,393.68 259.17,394.69 259.29,395.71 259.39,396.74 259.47,397.77 259.53,398.80 259.58,399.84 259.61,400.89 259.63,401.93 259.64,402.98 259.63,404.03 259.62,405.09 259.59,406.14 259.56,407.19 259.52,408.25 259.48,409.30 259.43,410.35 259.37,411.40 259.32,412.45 259.26,413.49 259.21,414.53 259.15,415.57 259.10,416.60 259.05,417.63 259.01,418.66 258.97,419.67 258.94,420.68 258.92,421.68 258.90,422.68 258.90,423.67 258.91,424.65 258.93,425.61 258.96,426.57 259.01,427.52 259.08,428.46 259.16,429.39 259.26,430.30 259.38,431.20 259.53,432.09 259.30,433.40L259.50,433.40L259.35,432.18 259.47,431.26 259.56,430.33 259.64,429.38 259.70,428.44 259.75,427.48 259.78,426.51 259.80,425.54 259.81,424.56 259.81,423.57 259.79,422.58 259.78,421.58 259.75,420.57 259.71,419.56 259.67,418.54 259.63,417.51 259.59,416.48 259.54,415.45 259.49,414.41 259.44,413.37 259.39,412.32 259.34,411.27 259.30,410.21 259.26,409.15 259.23,408.09 259.20,407.03 259.18,405.96 259.17,404.90 259.18,403.84 259.19,402.78 259.22,401.72 259.27,400.67 259.33,399.63 259.41,398.59 259.51,397.57 259.63,396.55 259.77,395.54 259.94,394.54 260.13,393.56 260.35,392.59 260.60,391.63 260.87,390.70 261.18,389.77 261.52,388.87 261.89,387.98 262.30,387.12 262.73,386.27 263.20,385.44 263.69,384.64 264.22,383.85 264.77,383.09 265.36,382.34 265.97,381.62 266.61,380.92 267.27,380.25 267.96,379.59 268.68,378.96 269.42,378.36 270.18,377.77 270.97,377.22 271.79,376.68 272.62,376.17 273.48,375.69 274.35,375.22 275.24,374.77 276.15,374.35 277.07,373.93 278.01,373.53 278.95,373.14 279.90,372.77 280.86,372.40 281.83,372.04 282.80,371.68 283.77,371.33 284.74,370.98 285.71,370.63 286.68,370.28 287.65,369.93 288.62,369.58 289.58,369.23 290.55,368.88 291.51,368.53 292.48,368.18 293.44,367.83 294.40,367.49 295.36,367.14 296.32,366.80 297.28,366.46 298.24,366.11 299.20,365.77 300.16,365.44 301.12,365.10 302.08,364.76 303.04,364.43 303.99,364.10 304.95,363.77 305.91,363.44 306.87,363.12 307.82,362.79 308.78,362.47 309.74,362.15 310.69,361.84 311.65,361.53 312.61,361.22 313.57,360.91 314.53,360.61 315.49,360.31 316.45,360.01 317.41,359.71 318.37,359.42 319.33,359.14 320.29,358.85 321.25,358.57 322.22,358.30 323.18,358.03 324.14,357.76 325.11,357.49 326.08,357.23 327.05,356.98 328.02,356.73 328.99,356.48 329.96,356.24 330.93,356.01 331.91,355.77 332.88,355.55 333.86,355.33 334.84,355.11 335.82,354.90 336.80,354.69 337.78,354.49 338.77,354.30 339.76,354.11 340.75,353.93 341.74,353.75 342.73,353.58 343.73,353.42 344.72,353.26 345.72,353.10 346.80,353.80" fill="none" stroke="#00f" stroke-width="2.0" stroke-linecap="square" stroke-dasharray="0.01 5.69" stroke-dashoffset="2.5"/>
<path d="M42.30,358.20L43.22,358.39 44.09,358.96 44.97,359.53 45.84,360.09 46.72,360.64 47.59,361.18 48.47,361.72 49.34,362.26 50.22,362.79 51.10,363.31 51.98,363.83 52.86,364.34 53.73,364.85 54.62,365.36 55.50,365.85 56.38,366.35 57.26,366.83 58.15,367.32 59.03,367.80 59.92,368.27 60.81,368.74 61.70,369.20 62.59,369.66 63.48,370.12 64.38,370.57 65.27,371.02 66.17,371.46 67.06,371.90 67.96,372.34 68.86,372.77 69.77,373.20 70.67,373.62 71.58,374.04 72.49,374.46 73.40,374.87 74.31,375.28 75.22,375.69 76.14,376.10 77.06,376.50 77.98,376.89 78.90,377.29 79.82,377.68 80.75,378.07 81.68,378.46 82.61,378.84 83.55,379.22 84.48,379.60 85.42,379.98 86.36,380.35 87.31,380.73 88.25,381.10 89.20,381.46 90.15,381.83 91.11,382.19 92.07,382.56 93.03,382.92 93.99,383.28 94.96,383.63 95.93,383.99 96.90,384.35 97.87,384.70 98.85,385.05 99.84,385.40 100.82,385.75 101.81,386.10 102.79,386.46 103.78,386.81 104.76,387.17 105.74,387.53 106.72,387.90 107.69,388.27 108.65,388.65 109.61,389.04 110.56,389.43 111.50,389.84 112.43,390.25 113.34,390.68 114.25,391.12 115.14,391.57 116.01,392.04 116.87,392.52 117.71,393.01 118.54,393.52 119.34,394.05 120.12,394.60 120.89,395.17 121.63,395.76 122.34,396.37 123.03,397.00 123.70,397.65 124.34,398.33 124.95,399.03 125.53,399.76 126.08,400.52 126.60,401.30 127.09,402.10 127.54,402.94 127.97,403.79 128.37,404.67 128.74,405.57 129.09,406.49 129.40,407.43 129.69,408.39 129.96,409.36 130.19,410.35 130.41,411.35 130.60,412.36 130.76,413.38 130.91,414.42 131.03,415.46 131.12,416.51 131.20,417.56 131.26,418.62 131.30,419.68 131.31,420.75 131.31,421.81 131.30,422.88 131.26,423.94 131.21,425.00 131.14,426.05 131.05,427.10 130.95,428.14 130.84,429.18 130.71,430.20 130.57,431.21 131.00,432.00L131.20,432.00L131.27,430.87 131.36,429.87 131.41,428.88 131.44,427.91 131.44,426.93 131.43,425.97 131.40,425.01 131.36,424.05 131.31,423.09 131.26,422.12 131.22,421.16 131.17,420.19 131.14,419.21 131.12,418.22 131.12,417.22 131.13,416.21 131.18,415.19 131.25,414.15 131.36,413.09 131.49,412.02 131.66,410.95 131.86,409.86 132.10,408.78 132.36,407.70 132.66,406.63 132.98,405.57 133.34,404.53 133.73,403.51 134.15,402.51 134.59,401.54 135.07,400.61 135.58,399.71 136.11,398.85 136.67,398.04 137.27,397.28 137.89,396.57 138.54,395.92 139.21,395.32 139.91,394.77 140.63,394.27 141.38,393.82 142.15,393.42 142.94,393.06 143.76,392.75 144.59,392.48 145.44,392.25 146.31,392.06 147.19,391.90 148.09,391.79 149.01,391.70 149.94,391.66 150.88,391.64 151.84,391.65 152.80,391.70 153.77,391.76 154.76,391.86 155.75,391.98 156.75,392.12 157.75,392.28 158.76,392.46 159.77,392.66 160.79,392.88 161.81,393.11 162.83,393.35 163.85,393.61 164.86,393.88 165.88,394.15 166.89,394.43 167.90,394.72 168.91,395.02 169.92,395.32 170.92,395.63 171.92,395.94 172.91,396.25 173.91,396.57 174.90,396.90 175.89,397.22 176.88,397.55 177.86,397.89 178.84,398.22 179.82,398.56 180.80,398.90 181.78,399.24 182.75,399.58 183.73,399.91 184.70,400.25 185.67,400.59 186.64,400.93 187.61,401.27 188.57,401.60 189.54,401.93 190.50,402.26 191.46,402.59 192.42,402.91 193.38,403.23 194.34,403.54 195.30,403.85 196.26,404.16 197.22,404.46 198.17,404.75 199.13,405.04 200.09,405.32 201.04,405.59 202.00,405.85 202.95,406.11 203.91,406.36 204.86,406.60 205.82,406.83 206.77,407.05 207.73,407.26 208.68,407.46 209.64,407.65 210.60,407.83 211.55,408.00 212.51,408.15 213.47,408.29 214.43,408.42 215.39,408.54 216.35,408.64 217.31,408.73 218.27,408.81 219.24,408.86 220.20,408.91 221.17,408.94 222.14,408.95 223.11,408.94 224.08,408.92 225.05,408.88 226.03,408.83 227.00,408.75 227.98,408.66 228.96,408.55 229.94,408.42 230.93,408.27 231.91,408.10 232.90,407.92 233.88,407.72 234.87,407.51 235.86,407.28 236.85,407.04 237.84,406.78 238.83,406.52 239.83,406.24 240.82,405.95 241.81,405.65 242.80,405.34 243.79,405.02 244.78,404.69 245.77,404.35 246.76,404.01 247.75,403.66 248.73,403.30 249.72,402.94 250.70,402.58 251.68,402.21 252.66,401.84 253.64,401.47 254.61,401.09 255.58,400.72 256.55,400.34 257.52,399.97 258.49,399.59 259.45,399.22 260.40,398.85 261.36,398.49 262.31,398.12 263.26,397.76 264.21,397.40 265.15,397.05 266.09,396.70 267.03,396.34 267.96,395.99 268.90,395.65 269.83,395.30 270.76,394.96 271.69,394.62 272.62,394.27 273.55,393.94 274.47,393.60 275.40,393.26 276.32,392.92 277.25,392.59 278.17,392.25 279.09,391.92 280.02,391.58 280.94,391.25 281.86,390.91 282.79,390.58 283.71,390.24 284.64,389.91 285.56,389.57 286.49,389.23 287.42,388.90 288.35,388.56 289.28,388.22 290.22,387.88 291.15,387.54 292.09,387.19 293.03,386.85 293.97,386.50 294.91,386.15 295.86,385.80 296.80,385.45 297.74,385.10 298.69,384.74 299.64,384.39 300.58,384.02 301.53,383.66 302.47,383.30 303.42,382.93 304.37,382.56 305.31,382.19 306.26,381.81 307.20,381.43 308.15,381.05 309.09,380.66 310.03,380.27 310.97,379.88 311.91,379.49 312.85,379.09 313.78,378.68 314.72,378.28 315.65,377.87 316.58,377.45 317.51,377.03 318.43,376.61 319.35,376.19 320.27,375.75 321.19,375.32 322.10,374.88 323.01,374.43 323.92,373.98 324.83,373.53 325.73,373.07 326.62,372.61 327.52,372.14 328.40,371.66 329.29,371.18 330.17,370.70 331.04,370.20 331.91,369.71 332.78,369.20 333.64,368.70 334.50,368.18 335.35,367.66 336.19,367.14 337.03,366.60 337.87,366.06 338.70,365.52 339.52,364.97 340.34,364.41 341.15,363.84 341.95,363.27 342.75,362.69 343.54,362.11 344.32,361.51 345.10,360.91 345.87,360.30 346.63,359.69 347.20,358.60" fill="none" stroke="#f00" stroke-width="0.9" stroke-opacity="0.35" stroke-dasharray="0 2.15 1.4 2.15" stroke-dashoffset="1.5"/>
<path d="M42.30,358.20L43.22,358.39 44.09,358.96 44.97,359.53 45.84,360.09 46.72,360.64 47.59,361.18 48.47,361.72 49.34,362.26 50.22,362.79 51.10,363.31 51.98,363.83 52.86,364.34 53.73,364.85 54.62,365.36 55.50,365.85 56.38,366.35 57.26,366.83 58.15,367.32 59.03,367.80 59.92,368.27 60.81,368.74 61.70,369.20 62.59,369.66 63.48,370.12 64.38,370.57 65.27,371.02 66.17,371.46 67.06,371.90 67.96,372.34 68.86,372.77 69.77,373.20 70.67,373.62 71.58,374.04 72.49,374.46 73.40,374.87 74.31,375.28 75.22,375.69 76.14,376.10 77.06,376.50 77.98,376.89 78.90,377.29 79.82,377.68 80.75,378.07 81.68,378.46 82.61,378.84 83.55,379.22 84.48,379.60 85.42,379.98 86.36,380.35 87.31,380.73 88.25,381.10 89.20,381.46 90.15,381.83 91.11,382.19 92.07,382.56 93.03,382.92 93.99,383.28 94.96,383.63 95.93,383.99 96.90,384.35 97.87,384.70 98.85,385.05 99.84,385.40 100.82,385.75 101.81,386.10 102.79,386.46 103.78,386.81 104.76,387.17 105.74,387.53 106.72,387.90 107.69,388.27 108.65,388.65 109.61,389.04 110.56,389.43 111.50,389.84 112.43,390.25 113.34,390.68 114.25,391.12 115.14,391.57 116.01,392.04 116.87,392.52 117.71,393.01 118.54,393.52 119.34,394.05 120.12,394.60 120.89,395.17 121.63,395.76 122.34,396.37 123.03,397.00 123.70,397.65 124.34,398.33 124.95,399.03 125.53,399.76 126.08,400.52 126.60,401.30 127.09,402.10 127.54,402.94 127.97,403.79 128.37,404.67 128.74,405.57 129.09,406.49 129.40,407.43 129.69,408.39 129.96,409.36 130.19,410.35 130.41,411.35 130.60,412.36 130.76,413.38 130.91,414.42 131.03,415.46 131.12,416.51 131.20,417.56 131.26,418.62 131.30,419.68 131.31,420.75 131.31,421.81 131.30,422.88 131.26,423.94 131.21,425.00 131.14,426.05 131.05,427.10 130.95,428.14 130.84,429.18 130.71,430.20 130.57,431.21 131.00,432.00L131.20,432.00L131.27,430.87 131.36,429.87 131.41,428.88 131.44,427.91 131.44,426.93 131.43,425.97 131.40,425.01 131.36,424.05 131.31,423.09 131.26,422.12 131.22,421.16 131.17,420.19 131.14,419.21 131.12,418.22 131.12,417.22 131.13,416.21 131.18,415.19 131.25,414.15 131.36,413.09 131.49,412.02 131.66,410.95 131.86,409.86 132.10,408.78 132.36,407.70 132.66,406.63 132.98,405.57 133.34,404.53 133.73,403.51 134.15,402.51 134.59,401.54 135.07,400.61 135.58,399.71 136.11,398.85 136.67,398.04 137.27,397.28 137.89,396.57 138.54,395.92 139.21,395.32 139.91,394.77 140.63,394.27 141.38,393.82 142.15,393.42 142.94,393.06 143.76,392.75 144.59,392.48 145.44,392.25 146.31,392.06 147.19,391.90 148.09,391.79 149.01,391.70 149.94,391.66 150.88,391.64 151.84,391.65 152.80,391.70 153.77,391.76 154.76,391.86 155.75,391.98 156.75,392.12 157.75,392.28 158.76,392.46 159.77,392.66 160.79,392.88 161.81,393.11 162.83,393.35 163.85,393.61 164.86,393.88 165.88,394.15 166.89,394.43 167.90,394.72 168.91,395.02 169.92,395.32 170.92,395.63 171.92,395.94 172.91,396.25 173.91,396.57 174.90,396.90 175.89,397.22 176.88,397.55 177.86,397.89 178.84,398.22 179.82,398.56 180.80,398.90 181.78,399.24 182.75,399.58 183.73,399.91 184.70,400.25 185.67,400.59 186.64,400.93 187.61,401.27 188.57,401.60 189.54,401.93 190.50,402.26 191.46,402.59 192.42,402.91 193.38,403.23 194.34,403.54 195.30,403.85 196.26,404.16 197.22,404.46 198.17,404.75 199.13,405.04 200.09,405.32 201.04,405.59 202.00,405.85 202.95,406.11 203.91,406.36 204.86,406.60 205.82,406.83 206.77,407.05 207.73,407.26 208.68,407.46 209.64,407.65 210.60,407.83 211.55,408.00 212.51,408.15 213.47,408.29 214.43,408.42 215.39,408.54 216.35,408.64 217.31,408.73 218.27,408.81 219.24,408.86 220.20,408.91 221.17,408.94 222.14,408.95 223.11,408.94 224.08,408.92 225.05,408.88 226.03,408.83 227.00,408.75 227.98,408.66 228.96,408.55 229.94,408.42 230.93,408.27 231.91,408.10 232.90,407.92 233.88,407.72 234.87,407.51 235.86,407.28 236.85,407.04 237.84,406.78 238.83,406.52 239.83,406.24 240.82,405.95 241.81,405.65 242.80,405.34 243.79,405.02 244.78,404.69 245.77,404.35 246.76,404.01 247.75,403.66 248.73,403.30 249.72,402.94 250.70,402.58 251.68,402.21 252.66,401.84 253.64,401.47 254.61,401.09 255.58,400.72 256.55,400.34 257.52,399.97 258.49,399.59 259.45,399.22 260.40,398.85 261.36,398.49 262.31,398.12 263.26,397.76 264.21,397.40 265.15,397.05 266.09,396.70 267.03,396.34 267.96,395.99 268.90,395.65 269.83,395.30 270.76,394.96 271.69,394.62 272.62,394.27 273.55,393.94 274.47,393.60 275.40,393.26 276.32,392.92 277.25,392.59 278.17,392.25 279.09,391.92 280.02,391.58 280.94,391.25 281.86,390.91 282.79,390.58 283.71,390.24 284.64,389.91 285.56,389.57 286.49,389.23 287.42,388.90 288.35,388.56 289.28,388.22 290.22,387.88 291.15,387.54 292.09,387.19 293.03,386.85 293.97,386.50 294.91,386.15 295.86,385.80 296.80,385.45 297.74,385.10 298.69,384.74 299.64,384.39 300.58,384.02 301.53,383.66 302.47,383.30 303.42,382.93 304.37,382.56 305.31,382.19 306.26,381.81 307.20,381.43 308.15,381.05 309.09,380.66 310.03,380.27 310.97,379.88 311.91,379.49 312.85,379.09 313.78,378.68 314.72,378.28 315.65,377.87 316.58,377.45 317.51,377.03 318.43,376.61 319.35,376.19 320.27,375.75 321.19,375.32 322.10,374.88 323.01,374.43 323.92,373.98 324.83,373.53 325.73,373.07 326.62,372.61 327.52,372.14 328.40,371.66 329.29,371.18 330.17,370.70 331.04,370.20 331.91,369.71 332.78,369.20 333.64,368.70 334.50,368.18 335.35,367.66 336.19,367.14 337.03,366.60 337.87,366.06 338.70,365.52 339.52,364.97 340.34,364.41 341.15,363.84 341.95,363.27 342.75,362.69 343.54,362.11 344.32,361.51 345.10,360.91 345.87,360.30 346.63,359.69 347.20,358.60" fill="none" stroke="#f00" stroke-width="2.0" stroke-linecap="square" stroke-dasharray="0.01 5.69" stroke-dashoffset="1.5"/>
<rect x="266.4" y="444.7" width="80.8" height="91.5" fill="#fff" stroke="#555" stroke-width="1"/>
<path d="M268.3,452.7H287.3" stroke="#00f" stroke-width="1.6" stroke-dasharray="7.3 4.1"/>
<path d="M268.3,468.0H287.3" stroke="#f00" stroke-width="1.6" stroke-dasharray="7.3 4.1"/>
<path d="M267.6,483.6H290.6" stroke="#00f" stroke-width="1.6"/>
<path d="M267.6,498.4H290.6" stroke="#f00" stroke-width="1.6"/>
<path d="M268.6,513.1H290" stroke="#00f" stroke-width="0.9" stroke-opacity="0.35" stroke-dasharray="0 2.1 1.4 2.1"/>
<path d="M268.6,513.1H290" stroke="#00f" stroke-width="1.7" stroke-linecap="square" stroke-dasharray="0.01 5.59"/>
<path d="M268.6,527.8H290" stroke="#f00" stroke-width="0.9" stroke-opacity="0.35" stroke-dasharray="0 2.1 1.4 2.1"/>
<path d="M268.6,527.8H290" stroke="#f00" stroke-width="1.7" stroke-linecap="square" stroke-dasharray="0.01 5.59"/>
<text x="293.20" y="456.60" font-size="11.8">I</text>
<text x="296.00" y="461.40" font-size="9.0" textLength="26.0" lengthAdjust="spacingAndGlyphs">drift,ox</text>
<text x="322.20" y="456.60" font-size="11.8" textLength="21.4" lengthAdjust="spacingAndGlyphs">-FW</text>
<text x="293.20" y="471.90" font-size="11.8">I</text>
<text x="296.00" y="476.70" font-size="9.0" textLength="26.0" lengthAdjust="spacingAndGlyphs">drift,ox</text>
<text x="322.20" y="471.90" font-size="11.8" textLength="22.0" lengthAdjust="spacingAndGlyphs">-BW</text>
<text x="293.20" y="487.50" font-size="11.8">I</text>
<text x="296.60" y="492.30" font-size="9.0" textLength="23.0" lengthAdjust="spacingAndGlyphs">diff,ox</text>
<text x="322.20" y="487.50" font-size="11.8" textLength="21.4" lengthAdjust="spacingAndGlyphs">-FW</text>
<text x="293.20" y="502.30" font-size="11.8">I</text>
<text x="297.60" y="507.10" font-size="9.0" textLength="22.6" lengthAdjust="spacingAndGlyphs">diff,ox</text>
<text x="322.80" y="502.30" font-size="11.8" textLength="22.0" lengthAdjust="spacingAndGlyphs">-BW</text>
<text x="293.20" y="517.00" font-size="11.8">I</text>
<text x="297.10" y="521.80" font-size="9.0" textLength="21.9" lengthAdjust="spacingAndGlyphs">diff,Si</text>
<text x="322.80" y="517.00" font-size="11.8" textLength="21.4" lengthAdjust="spacingAndGlyphs">-FW</text>
<text x="293.20" y="531.70" font-size="11.8">I</text>
<text x="297.10" y="536.50" font-size="9.0" textLength="21.9" lengthAdjust="spacingAndGlyphs">diff,Si</text>
<text x="322.80" y="531.70" font-size="11.8" textLength="22.0" lengthAdjust="spacingAndGlyphs">-BW</text>
<g transform="translate(13.1,504.7) rotate(-90)">
<text x="0.00" y="0.00" font-size="14.8" textLength="168" lengthAdjust="spacingAndGlyphs">LogII-components [A]I</text>
</g>
<text x="168.60" y="567.60" font-size="16.8" textLength="11.6" lengthAdjust="spacingAndGlyphs">V</text>
<text x="178.50" y="573.80" font-size="13" textLength="13.6" lengthAdjust="spacingAndGlyphs">ds</text>
<text x="196.00" y="567.60" font-size="16.8" textLength="19.7" lengthAdjust="spacingAndGlyphs">[V]</text>
<text x="6.3" y="301.9" font-size="20.5" font-weight="bold">c</text>
<rect x="413.8" y="294.3" width="310.50" height="245.70" fill="none" stroke="#6a6a6a" stroke-width="1.1"/>
<path d="M461.50,540.0v-3.0M514.80,540.0v-3.0M568.10,540.0v-3.0M621.40,540.0v-3.0M674.70,540.0v-3.0M475.90,294.3v3.0M538.00,294.3v3.0M600.10,294.3v3.0M662.20,294.3v3.0M413.8,329.30h3.0M724.3,329.30h-3.0M413.8,364.30h3.0M724.3,364.30h-3.0M413.8,399.20h3.0M724.3,399.20h-3.0M413.8,434.30h3.0M724.3,434.30h-3.0M413.8,469.50h3.0M724.3,469.50h-3.0M413.8,504.20h3.0M724.3,504.20h-3.0" stroke="#6a6a6a" stroke-width="1.1"/>
<text x="397.35" y="296.90" font-size="11.0">-6</text>
<text x="397.35" y="331.90" font-size="11.0">-7</text>
<text x="397.35" y="366.90" font-size="11.0">-8</text>
<text x="393.05" y="401.80" font-size="11.0">-10</text>
<text x="393.05" y="436.90" font-size="11.0">-12</text>
<text x="393.05" y="472.10" font-size="11.0">-14</text>
<text x="393.05" y="506.80" font-size="11.0">-16</text>
<text x="393.05" y="542.60" font-size="11.0">-17</text>
<text x="460.80" y="552.20" font-size="11.0" text-anchor="middle">−2</text>
<text x="514.10" y="552.20" font-size="11.0" text-anchor="middle">−1</text>
<text x="568.10" y="552.20" font-size="11.0" text-anchor="middle">0</text>
<text x="621.40" y="552.20" font-size="11.0" text-anchor="middle">1</text>
<text x="674.70" y="552.20" font-size="11.0" text-anchor="middle">2</text>
<path d="M416.60,509.60L416.62,508.55 416.70,507.60 416.75,506.63 416.79,505.66 416.82,504.68 416.83,503.69 416.82,502.70 416.81,501.70 416.78,500.70 416.74,499.69 416.70,498.67 416.66,497.66 416.61,496.64 416.55,495.61 416.50,494.59 416.45,493.56 416.40,492.54 416.35,491.51 416.32,490.48 416.28,489.46 416.26,488.43 416.25,487.41 416.25,486.39 416.27,485.37 416.30,484.35 416.35,483.34 416.42,482.34 416.51,481.34 416.62,480.34 416.75,479.35 416.90,478.37 417.08,477.39 417.28,476.42 417.50,475.46 417.74,474.50 418.01,473.56 418.30,472.62 418.61,471.69 418.94,470.77 419.29,469.86 419.67,468.96 420.07,468.07 420.49,467.19 420.94,466.33 421.40,465.47 421.89,464.63 422.41,463.80 422.94,462.98 423.50,462.17 424.08,461.38 424.68,460.60 425.30,459.83 425.94,459.07 426.59,458.33 427.27,457.59 427.95,456.86 428.65,456.14 429.37,455.43 430.09,454.72 430.83,454.03 431.58,453.34 432.33,452.65 433.09,451.97 433.86,451.29 434.63,450.62 435.40,449.94 436.18,449.28 436.96,448.61 437.73,447.94 438.51,447.28 439.29,446.61 440.06,445.94 440.83,445.27 441.59,444.60 442.35,443.94 443.11,443.27 443.87,442.60 444.63,441.93 445.38,441.26 446.13,440.59 446.89,439.93 447.64,439.26 448.39,438.60 449.14,437.94 449.89,437.28 450.65,436.62 451.40,435.97 452.15,435.31 452.91,434.66 453.67,434.02 454.43,433.37 455.19,432.74 455.95,432.10 456.72,431.47 457.49,430.84 458.26,430.22 459.04,429.60 459.82,428.99 460.61,428.38 461.40,427.78 462.20,427.18 463.00,426.59 463.80,426.00 464.61,425.42 465.42,424.84 466.23,424.26 467.05,423.69 467.87,423.12 468.69,422.56 469.52,422.00 470.35,421.44 471.18,420.89 472.02,420.34 472.85,419.80 473.70,419.25 474.54,418.71 475.38,418.18 476.23,417.64 477.08,417.11 477.94,416.58 478.79,416.05 479.65,415.53 480.50,415.01 481.36,414.49 482.22,413.97 483.09,413.45 483.95,412.94 484.82,412.42 485.68,411.91 486.55,411.40 487.42,410.89 488.28,410.38 489.15,409.87 490.02,409.37 490.89,408.86 491.77,408.35 492.64,407.85 493.51,407.34 494.38,406.84 495.25,406.33 496.12,405.82 496.99,405.32 497.86,404.81 498.73,404.30 499.60,403.80 500.47,403.29 501.34,402.78 502.20,402.27 503.07,401.76 503.93,401.25 504.80,400.73 505.66,400.22 506.52,399.71 507.39,399.19 508.25,398.68 509.11,398.17 509.97,397.65 510.83,397.14 511.69,396.62 512.55,396.11 513.42,395.60 514.28,395.08 515.14,394.57 516.00,394.06 516.86,393.54 517.72,393.03 518.58,392.52 519.44,392.01 520.31,391.50 521.17,391.00 522.03,390.49 522.89,389.98 523.76,389.48 524.62,388.98 525.49,388.47 526.36,387.98 527.22,387.48 528.09,386.98 528.96,386.49 529.83,385.99 530.70,385.50 531.57,385.01 532.45,384.53 533.32,384.04 534.20,383.56 535.08,383.08 535.96,382.60 536.84,382.13 537.72,381.66 538.60,381.19 539.49,380.72 540.37,380.26 541.26,379.80 542.15,379.34 543.05,378.89 543.94,378.44 544.84,377.99 545.74,377.55 546.64,377.11 547.54,376.67 548.45,376.24 549.35,375.81 550.26,375.39 551.18,374.97 552.09,374.55 553.01,374.14 553.93,373.73 554.85,373.33 555.77,372.93 556.70,372.54 557.63,372.15 558.56,371.77 559.49,371.39 560.42,371.02 561.36,370.65 562.30,370.29 563.24,369.93 564.18,369.58 565.13,369.24 566.08,368.90 567.03,368.57 567.98,368.25 568.93,367.93 569.89,367.62 570.85,367.31 571.81,367.02 572.77,366.73 573.73,366.44 574.70,366.17 575.66,365.90 576.63,365.64 577.61,365.38 578.58,365.14 579.55,364.90 580.53,364.67 581.51,364.45 582.49,364.24 583.47,364.04 584.46,363.84 585.44,363.65 586.43,363.48 587.42,363.31 588.41,363.15 589.41,363.00 590.40,362.86 591.40,362.73 592.40,362.61 593.40,362.49 594.40,362.39 595.40,362.30 596.41,362.22 597.41,362.15 598.42,362.09 599.43,362.04 600.44,362.00 601.45,361.97 602.47,361.95 603.48,361.95 604.50,361.96 605.51,361.98 606.52,362.02 607.53,362.07 608.53,362.14 609.53,362.23 610.53,362.33 611.52,362.45 612.51,362.60 613.48,362.76 614.45,362.94 615.42,363.15 616.37,363.37 617.32,363.62 618.25,363.90 619.17,364.20 620.08,364.53 620.98,364.88 621.87,365.26 622.74,365.66 623.60,366.10 624.44,366.57 625.27,367.06 626.08,367.58 626.88,368.13 627.66,368.70 628.43,369.30 629.19,369.92 629.93,370.57 630.66,371.24 631.38,371.93 632.08,372.65 632.77,373.38 633.45,374.14 634.11,374.91 634.76,375.70 635.40,376.51 636.03,377.34 636.64,378.18 637.24,379.04 637.83,379.91 638.41,380.80 638.97,381.70 639.53,382.61 640.07,383.54 640.60,384.47 641.13,385.40 641.65,386.35 642.17,387.29 642.69,388.23 643.20,389.17 643.72,390.10 644.24,391.02 644.76,391.93 645.29,392.83 645.82,393.71 646.36,394.58 646.92,395.42 647.48,396.24 648.06,397.03 648.66,397.80 649.27,398.54 649.90,399.24 650.55,399.91 651.23,400.55 651.92,401.14 652.64,401.69 653.39,402.20 654.16,402.66 654.95,403.09 655.76,403.48 656.59,403.82 657.44,404.13 658.31,404.41 659.20,404.64 660.09,404.84 661.01,405.01 661.93,405.14 662.87,405.24 663.82,405.31 664.77,405.35 665.74,405.35 666.71,405.33 667.69,405.28 668.67,405.20 669.65,405.09 670.64,404.96 671.62,404.80 672.61,404.62 673.60,404.41 674.58,404.19 675.56,403.94 676.54,403.67 677.52,403.39 678.50,403.09 679.48,402.77 680.46,402.44 681.43,402.10 682.41,401.74 683.38,401.38 684.35,401.00 685.32,400.62 686.29,400.24 687.26,399.85 688.22,399.45 689.18,399.06 690.15,398.66 691.11,398.26 692.06,397.87 693.02,397.48 693.98,397.09 694.93,396.71 695.88,396.34 696.83,395.98 697.78,395.62 698.72,395.28 699.67,394.95 700.61,394.63 701.55,394.32 702.49,394.01 703.43,393.72 704.38,393.44 705.32,393.17 706.26,392.90 707.21,392.64 708.15,392.38 709.10,392.14 710.05,391.90 711.01,391.66 711.97,391.43 712.93,391.20 713.89,390.97 714.87,390.75 715.84,390.53 716.82,390.32 717.81,390.10 718.80,389.88 719.80,389.67 720.80,389.40" fill="none" stroke="#00f" stroke-width="1.6" stroke-linejoin="round" stroke-dasharray="6.5 4"/>
<path d="M416.60,498.70L416.76,497.73 416.78,496.77 416.78,495.79 416.76,494.80 416.73,493.80 416.69,492.79 416.64,491.77 416.59,490.74 416.53,489.70 416.48,488.66 416.43,487.62 416.38,486.58 416.35,485.53 416.32,484.49 416.31,483.44 416.32,482.41 416.35,481.38 416.40,480.35 416.48,479.33 416.58,478.33 416.72,477.33 416.89,476.35 417.09,475.38 417.33,474.43 417.61,473.50 417.93,472.57 418.28,471.66 418.65,470.77 419.06,469.88 419.50,469.01 419.96,468.15 420.45,467.30 420.96,466.47 421.49,465.64 422.04,464.82 422.61,464.01 423.20,463.21 423.80,462.42 424.42,461.64 425.05,460.86 425.69,460.09 426.33,459.33 426.99,458.57 427.65,457.82 428.32,457.07 428.99,456.33 429.67,455.60 430.36,454.87 431.05,454.14 431.74,453.42 432.44,452.70 433.15,451.99 433.86,451.29 434.57,450.58 435.29,449.88 436.02,449.19 436.74,448.50 437.48,447.81 438.21,447.13 438.95,446.45 439.70,445.77 440.45,445.10 441.20,444.43 441.95,443.76 442.71,443.10 443.47,442.44 444.24,441.78 445.00,441.12 445.77,440.47 446.54,439.82 447.32,439.17 448.09,438.53 448.87,437.88 449.65,437.24 450.44,436.60 451.22,435.96 452.00,435.32 452.79,434.69 453.58,434.05 454.37,433.42 455.16,432.79 455.95,432.16 456.74,431.53 457.53,430.90 458.32,430.27 459.12,429.64 459.91,429.01 460.70,428.38 461.50,427.76 462.29,427.13 463.08,426.50 463.87,425.87 464.66,425.24 465.45,424.61 466.23,423.98 467.02,423.35 467.80,422.71 468.58,422.07 469.35,421.43 470.13,420.79 470.89,420.14 471.66,419.49 472.42,418.84 473.17,418.18 473.92,417.51 474.66,416.85 475.40,416.17 476.13,415.49 476.85,414.81 477.57,414.12 478.28,413.42 478.98,412.71 479.67,412.00 480.36,411.28 481.03,410.55 481.70,409.82 482.36,409.08 483.01,408.32 483.65,407.57 484.28,406.80 484.90,406.03 485.51,405.25 486.12,404.46 486.71,403.66 487.30,402.86 487.88,402.05 488.45,401.23 489.00,400.40 489.55,399.57 490.09,398.73 490.62,397.88 491.14,397.02 491.65,396.15 492.15,395.28 492.65,394.40 493.13,393.52 493.61,392.63 494.09,391.73 494.56,390.83 495.03,389.94 495.50,389.04 495.97,388.14 496.44,387.24 496.92,386.34 497.40,385.45 497.89,384.56 498.38,383.68 498.89,382.80 499.40,381.93 499.93,381.07 500.47,380.22 501.02,379.38 501.59,378.55 502.18,377.73 502.79,376.93 503.41,376.14 504.06,375.37 504.73,374.61 505.42,373.87 506.13,373.15 506.85,372.44 507.60,371.76 508.36,371.09 509.13,370.44 509.93,369.81 510.73,369.20 511.56,368.61 512.39,368.04 513.24,367.50 514.10,366.97 514.97,366.47 515.85,366.00 516.74,365.54 517.64,365.11 518.54,364.71 519.46,364.33 520.38,363.98 521.30,363.65 522.23,363.35 523.17,363.08 524.12,362.82 525.07,362.59 526.02,362.39 526.98,362.20 527.94,362.04 528.91,361.90 529.88,361.78 530.86,361.68 531.84,361.60 532.82,361.54 533.81,361.50 534.80,361.48 535.79,361.48 536.79,361.50 537.78,361.53 538.78,361.58 539.78,361.64 540.79,361.73 541.79,361.82 542.80,361.93 543.80,362.06 544.81,362.20 545.82,362.36 546.82,362.52 547.83,362.70 548.84,362.89 549.84,363.10 550.85,363.31 551.85,363.53 552.86,363.77 553.86,364.01 554.86,364.27 555.86,364.53 556.85,364.80 557.85,365.08 558.84,365.36 559.83,365.65 560.81,365.95 561.80,366.25 562.77,366.56 563.75,366.88 564.72,367.20 565.68,367.52 566.65,367.84 567.60,368.17 568.56,368.51 569.51,368.84 570.45,369.18 571.40,369.53 572.34,369.87 573.27,370.22 574.21,370.58 575.14,370.93 576.06,371.29 576.99,371.66 577.91,372.02 578.83,372.39 579.75,372.76 580.66,373.14 581.57,373.51 582.48,373.89 583.39,374.27 584.30,374.66 585.21,375.05 586.11,375.44 587.02,375.83 587.92,376.22 588.82,376.62 589.72,377.02 590.62,377.42 591.52,377.82 592.42,378.23 593.32,378.64 594.22,379.05 595.12,379.46 596.02,379.87 596.92,380.28 597.82,380.70 598.72,381.12 599.62,381.54 600.52,381.96 601.43,382.38 602.33,382.81 603.24,383.23 604.15,383.66 605.05,384.09 605.97,384.52 606.88,384.95 607.79,385.38 608.71,385.81 609.63,386.24 610.55,386.68 611.47,387.12 612.39,387.56 613.32,388.00 614.24,388.44 615.16,388.89 616.09,389.33 617.01,389.79 617.93,390.24 618.85,390.70 619.76,391.16 620.68,391.63 621.59,392.10 622.50,392.58 623.41,393.06 624.31,393.54 625.21,394.03 626.11,394.53 627.00,395.03 627.89,395.54 628.77,396.05 629.64,396.57 630.51,397.10 631.38,397.63 632.24,398.17 633.09,398.72 633.93,399.27 634.77,399.83 635.60,400.40 636.42,400.98 637.23,401.57 638.04,402.16 638.83,402.77 639.62,403.38 640.40,404.01 641.16,404.64 641.92,405.28 642.67,405.93 643.40,406.60 644.12,407.27 644.84,407.95 645.54,408.65 646.22,409.35 646.90,410.07 647.56,410.80 648.21,411.54 648.84,412.29 649.46,413.05 650.07,413.82 650.66,414.60 651.23,415.40 651.79,416.20 652.33,417.02 652.85,417.84 653.36,418.67 653.85,419.52 654.32,420.37 654.77,421.24 655.20,422.11 655.61,422.99 656.01,423.89 656.38,424.79 656.73,425.70 657.06,426.62 657.36,427.55 657.65,428.49 657.91,429.44 658.15,430.40 658.36,431.36 658.55,432.34 658.72,433.32 658.86,434.31 658.97,435.31 659.06,436.32 659.12,437.34 659.16,438.36 659.17,439.39 659.15,440.43 659.10,441.48 659.02,442.54 658.92,443.60 658.78,444.67 658.62,445.75 658.42,446.83 658.19,447.93 657.94,449.03 657.65,450.13 658.40,450.80L658.40,450.80L658.60,436.00L658.60,436.00L658.42,435.17 658.51,433.99 658.64,432.84 658.81,431.72 659.01,430.63 659.25,429.56 659.52,428.53 659.83,427.53 660.17,426.55 660.54,425.60 660.95,424.67 661.38,423.78 661.85,422.90 662.34,422.05 662.86,421.23 663.41,420.43 663.99,419.65 664.59,418.89 665.21,418.16 665.86,417.44 666.54,416.75 667.23,416.07 667.95,415.42 668.68,414.78 669.44,414.16 670.22,413.56 671.01,412.97 671.82,412.40 672.64,411.85 673.48,411.31 674.34,410.78 675.21,410.27 676.09,409.77 676.98,409.28 677.89,408.81 678.80,408.35 679.72,407.89 680.65,407.45 681.59,407.01 682.54,406.59 683.49,406.17 684.45,405.76 685.42,405.36 686.39,404.96 687.36,404.57 688.34,404.19 689.32,403.81 690.31,403.43 691.30,403.06 692.28,402.69 693.28,402.32 694.27,401.96 695.26,401.60 696.25,401.23 697.24,400.87 698.23,400.51 699.21,400.15 700.20,399.78 701.18,399.42 702.16,399.05 703.13,398.68 704.10,398.31 705.06,397.93 706.02,397.55 706.97,397.16 707.92,396.77 708.85,396.37 709.78,395.96 710.70,395.55 711.62,395.12 712.52,394.69 713.41,394.25 714.29,393.81 715.16,393.35 716.02,392.88 716.87,392.40 717.71,391.90 718.53,391.40 719.33,390.88 720.13,390.35 721.50,390.20" fill="none" stroke="#f00" stroke-width="1.6" stroke-linejoin="round" stroke-dasharray="6.5 4" stroke-dashoffset="5.2"/>
<path d="M416.10,320.40L416.81,320.81 417.79,321.15 418.77,321.49 419.75,321.83 420.72,322.17 421.70,322.52 422.67,322.86 423.64,323.20 424.61,323.55 425.58,323.89 426.55,324.23 427.51,324.58 428.48,324.92 429.44,325.27 430.41,325.61 431.37,325.96 432.33,326.31 433.28,326.65 434.24,327.00 435.20,327.35 436.15,327.69 437.11,328.04 438.06,328.39 439.01,328.74 439.96,329.08 440.92,329.43 441.86,329.78 442.81,330.13 443.76,330.48 444.71,330.83 445.65,331.18 446.60,331.53 447.54,331.88 448.49,332.23 449.43,332.58 450.37,332.93 451.32,333.28 452.26,333.63 453.20,333.98 454.14,334.33 455.08,334.68 456.02,335.03 456.96,335.38 457.90,335.73 458.83,336.09 459.77,336.44 460.71,336.79 461.65,337.14 462.58,337.49 463.52,337.84 464.46,338.20 465.39,338.55 466.33,338.90 467.27,339.25 468.20,339.60 469.14,339.96 470.08,340.31 471.01,340.66 471.95,341.01 472.88,341.36 473.82,341.72 474.76,342.07 475.69,342.42 476.63,342.77 477.57,343.12 478.51,343.48 479.44,343.83 480.38,344.18 481.32,344.53 482.26,344.88 483.20,345.23 484.14,345.58 485.08,345.94 486.02,346.29 486.96,346.64 487.90,346.99 488.84,347.34 489.79,347.69 490.73,348.04 491.67,348.39 492.62,348.74 493.57,349.09 494.51,349.44 495.46,349.79 496.41,350.14 497.36,350.49 498.31,350.84 499.26,351.19 500.21,351.53 501.16,351.88 502.11,352.23 503.07,352.58 504.02,352.93 504.98,353.27 505.94,353.62 506.90,353.97 507.86,354.31 508.82,354.66 509.78,355.01 510.75,355.35 511.71,355.70 512.68,356.04 513.65,356.39 514.62,356.73 515.59,357.08 516.56,357.42 517.53,357.76 518.51,358.11 519.48,358.45 520.46,358.80 521.43,359.14 522.41,359.49 523.38,359.84 524.36,360.20 525.33,360.55 526.29,360.91 527.26,361.27 528.22,361.64 529.18,362.01 530.14,362.39 531.09,362.77 532.04,363.16 532.98,363.56 533.92,363.96 534.85,364.36 535.78,364.78 536.70,365.20 537.61,365.64 538.51,366.08 539.41,366.53 540.30,366.99 541.18,367.46 542.05,367.94 542.91,368.43 543.76,368.93 544.61,369.44 545.44,369.97 546.26,370.51 547.07,371.06 547.87,371.62 548.65,372.20 549.42,372.79 550.18,373.40 550.93,374.02 551.66,374.65 552.38,375.31 553.09,375.98 553.78,376.66 554.45,377.36 555.11,378.08 555.75,378.82 556.38,379.57 556.99,380.34 557.58,381.13 558.15,381.93 558.70,382.74 559.23,383.58 559.74,384.42 560.23,385.28 560.69,386.16 561.14,387.04 561.56,387.94 561.95,388.86 562.33,389.78 562.67,390.72 562.99,391.67 563.29,392.63 563.55,393.60 563.79,394.58 564.00,395.57 564.19,396.57 564.34,397.58 564.47,398.60 564.57,399.62 564.64,400.65 564.69,401.69 564.70,402.73 564.69,403.78 564.66,404.82 564.59,405.88 564.50,406.93 564.38,407.98 564.24,409.04 564.06,410.09 563.86,411.15 563.64,412.20 564.20,413.00L564.40,413.00L564.67,412.08 564.63,411.13 564.59,410.17 564.54,409.18 564.50,408.18 564.47,407.16 564.43,406.13 564.41,405.09 564.39,404.04 564.38,402.98 564.38,401.92 564.39,400.85 564.42,399.79 564.46,398.72 564.51,397.65 564.59,396.58 564.68,395.52 564.80,394.47 564.93,393.42 565.10,392.39 565.28,391.36 565.49,390.35 565.73,389.36 566.00,388.38 566.31,387.42 566.64,386.48 567.01,385.57 567.41,384.67 567.85,383.81 568.33,382.97 568.84,382.15 569.38,381.36 569.95,380.59 570.55,379.84 571.18,379.11 571.84,378.40 572.52,377.72 573.22,377.05 573.95,376.40 574.69,375.76 575.46,375.14 576.24,374.54 577.04,373.95 577.85,373.38 578.67,372.81 579.50,372.26 580.34,371.73 581.19,371.20 582.05,370.68 582.91,370.17 583.78,369.67 584.65,369.17 585.52,368.69 586.40,368.21 587.29,367.74 588.18,367.28 589.07,366.83 589.97,366.38 590.87,365.94 591.77,365.51 592.68,365.08 593.59,364.66 594.51,364.25 595.43,363.84 596.35,363.43 597.27,363.04 598.20,362.65 599.13,362.26 600.06,361.88 601.00,361.50 601.94,361.13 602.88,360.76 603.82,360.39 604.77,360.03 605.71,359.67 606.66,359.32 607.61,358.97 608.56,358.62 609.52,358.27 610.47,357.93 611.43,357.59 612.39,357.25 613.35,356.92 614.30,356.58 615.26,356.25 616.23,355.91 617.19,355.58 618.15,355.25 619.11,354.92 620.07,354.59 621.04,354.26 622.00,353.93 622.96,353.60 623.92,353.27 624.88,352.94 625.84,352.61 626.80,352.27 627.76,351.94 628.72,351.60 629.68,351.27 630.63,350.93 631.59,350.59 632.54,350.24 633.50,349.90 634.45,349.55 635.40,349.21 636.35,348.86 637.30,348.51 638.25,348.16 639.20,347.80 640.15,347.45 641.10,347.10 642.04,346.74 642.99,346.39 643.93,346.03 644.88,345.67 645.82,345.31 646.77,344.95 647.71,344.60 648.65,344.24 649.60,343.87 650.54,343.51 651.48,343.15 652.42,342.79 653.36,342.43 654.31,342.07 655.25,341.71 656.19,341.34 657.13,340.98 658.07,340.62 659.01,340.26 659.95,339.90 660.89,339.54 661.83,339.18 662.77,338.82 663.71,338.46 664.65,338.10 665.59,337.74 666.53,337.38 667.48,337.03 668.42,336.67 669.36,336.31 670.30,335.96 671.24,335.61 672.19,335.25 673.13,334.90 674.07,334.55 675.02,334.20 675.96,333.86 676.91,333.51 677.85,333.17 678.80,332.82 679.74,332.48 680.69,332.14 681.64,331.80 682.59,331.47 683.54,331.13 684.49,330.80 685.44,330.47 686.39,330.14 687.34,329.81 688.30,329.49 689.25,329.16 690.21,328.84 691.16,328.53 692.12,328.21 693.08,327.90 694.04,327.59 695.00,327.28 695.96,326.97 696.92,326.67 697.89,326.37 698.85,326.07 699.82,325.78 700.79,325.49 701.76,325.20 702.73,324.91 703.70,324.63 704.67,324.35 705.65,324.08 706.63,323.81 707.60,323.54 708.58,323.27 709.56,323.01 710.55,322.75 711.53,322.50 712.52,322.24 713.50,322.00 714.49,321.75 715.48,321.51 716.48,321.28 717.47,321.05 718.47,320.82 719.47,320.59 720.47,320.37 721.40,320.40" fill="none" stroke="#00f" stroke-width="1.6" stroke-linejoin="round"/>
<path d="M416.10,320.30L417.04,320.18 417.99,320.60 418.93,321.01 419.87,321.42 420.81,321.82 421.76,322.22 422.70,322.62 423.64,323.02 424.59,323.41 425.53,323.80 426.47,324.19 427.42,324.57 428.36,324.95 429.30,325.33 430.25,325.70 431.19,326.07 432.14,326.44 433.08,326.81 434.03,327.18 434.97,327.54 435.91,327.90 436.86,328.26 437.80,328.62 438.75,328.97 439.69,329.32 440.64,329.67 441.58,330.02 442.53,330.37 443.47,330.72 444.42,331.06 445.36,331.40 446.31,331.74 447.25,332.08 448.20,332.42 449.14,332.76 450.09,333.09 451.03,333.43 451.98,333.76 452.92,334.09 453.87,334.42 454.81,334.75 455.76,335.08 456.70,335.41 457.65,335.74 458.59,336.07 459.54,336.40 460.48,336.72 461.42,337.05 462.37,337.37 463.31,337.70 464.26,338.03 465.20,338.35 466.14,338.68 467.09,339.00 468.03,339.33 468.98,339.65 469.92,339.98 470.86,340.31 471.81,340.63 472.75,340.96 473.69,341.29 474.63,341.62 475.58,341.94 476.52,342.27 477.46,342.60 478.40,342.94 479.35,343.27 480.29,343.60 481.23,343.94 482.17,344.27 483.11,344.61 484.05,344.94 484.99,345.28 485.93,345.62 486.87,345.97 487.81,346.31 488.75,346.65 489.69,347.00 490.63,347.35 491.57,347.70 492.51,348.05 493.45,348.41 494.39,348.76 495.32,349.12 496.26,349.48 497.20,349.84 498.14,350.21 499.07,350.58 500.01,350.95 500.95,351.32 501.88,351.69 502.82,352.07 503.75,352.45 504.69,352.83 505.62,353.22 506.56,353.61 507.49,354.00 508.42,354.40 509.36,354.79 510.29,355.19 511.22,355.60 512.15,356.01 513.09,356.42 514.02,356.83 514.95,357.25 515.88,357.67 516.81,358.10 517.74,358.53 518.67,358.96 519.60,359.39 520.53,359.84 521.45,360.28 522.38,360.73 523.31,361.18 524.23,361.64 525.15,362.11 526.06,362.57 526.98,363.05 527.89,363.53 528.79,364.02 529.69,364.51 530.58,365.01 531.47,365.52 532.35,366.03 533.23,366.55 534.09,367.08 534.95,367.62 535.80,368.17 536.64,368.72 537.47,369.28 538.29,369.85 539.11,370.43 539.91,371.02 540.69,371.62 541.47,372.23 542.24,372.85 542.99,373.49 543.72,374.13 544.45,374.78 545.16,375.44 545.85,376.12 546.53,376.81 547.20,377.51 547.84,378.22 548.48,378.94 549.09,379.68 549.68,380.43 550.26,381.19 550.82,381.97 551.36,382.76 551.88,383.56 552.38,384.38 552.86,385.21 553.32,386.06 553.75,386.93 554.17,387.80 554.56,388.70 554.94,389.60 555.29,390.52 555.62,391.45 555.94,392.39 556.23,393.34 556.51,394.30 556.77,395.27 557.01,396.25 557.24,397.24 557.45,398.24 557.64,399.24 557.81,400.25 557.97,401.27 558.11,402.29 558.24,403.31 558.36,404.34 558.46,405.38 558.55,406.41 558.62,407.45 558.68,408.49 558.73,409.53 558.76,410.57 558.79,411.61 558.80,412.65 558.80,413.69 558.79,414.73 558.77,415.76 558.74,416.79 558.70,417.82 558.66,418.84 558.60,419.86 558.54,420.87 558.46,421.88 558.38,422.88 558.30,423.87 558.20,424.85 558.10,425.82 558.00,426.79 557.89,427.74 557.77,428.68 558.30,429.70L558.50,429.70L558.41,428.56 558.50,427.60 558.58,426.63 558.65,425.66 558.70,424.69 558.74,423.72 558.77,422.74 558.80,421.76 558.81,420.78 558.82,419.79 558.82,418.80 558.81,417.81 558.80,416.81 558.78,415.81 558.77,414.80 558.74,413.78 558.72,412.76 558.70,411.73 558.67,410.70 558.65,409.65 558.63,408.60 558.61,407.55 558.61,406.49 558.60,405.43 558.61,404.36 558.64,403.30 558.67,402.24 558.72,401.18 558.79,400.12 558.88,399.06 559.00,398.02 559.13,396.98 559.30,395.94 559.49,394.92 559.71,393.91 559.95,392.91 560.24,391.94 560.55,390.98 560.89,390.04 561.27,389.13 561.69,388.25 562.14,387.39 562.63,386.57 563.16,385.78 563.73,385.02 564.34,384.31 564.99,383.64 565.69,383.00 566.42,382.41 567.19,381.85 567.99,381.32 568.81,380.83 569.66,380.35 570.53,379.90 571.42,379.46 572.32,379.03 573.23,378.62 574.15,378.21 575.07,377.81 575.99,377.40 576.91,377.00 577.83,376.60 578.75,376.20 579.67,375.80 580.60,375.41 581.52,375.01 582.45,374.62 583.38,374.23 584.30,373.84 585.23,373.45 586.16,373.07 587.10,372.68 588.03,372.30 588.96,371.91 589.89,371.53 590.83,371.15 591.76,370.77 592.70,370.40 593.64,370.02 594.57,369.65 595.51,369.27 596.45,368.90 597.39,368.53 598.33,368.16 599.27,367.79 600.21,367.42 601.15,367.05 602.10,366.69 603.04,366.32 603.98,365.96 604.93,365.60 605.87,365.23 606.81,364.87 607.76,364.51 608.70,364.15 609.65,363.79 610.60,363.43 611.54,363.08 612.49,362.72 613.44,362.36 614.38,362.01 615.33,361.65 616.28,361.30 617.23,360.95 618.17,360.59 619.12,360.24 620.07,359.89 621.02,359.54 621.97,359.19 622.92,358.84 623.87,358.49 624.81,358.14 625.76,357.79 626.71,357.44 627.66,357.09 628.61,356.74 629.56,356.39 630.50,356.05 631.45,355.70 632.40,355.35 633.35,355.00 634.30,354.66 635.24,354.31 636.19,353.96 637.14,353.62 638.09,353.27 639.04,352.93 639.98,352.58 640.93,352.23 641.88,351.89 642.83,351.54 643.77,351.20 644.72,350.85 645.67,350.51 646.61,350.16 647.56,349.82 648.51,349.47 649.46,349.13 650.40,348.78 651.35,348.43 652.30,348.09 653.24,347.74 654.19,347.40 655.13,347.05 656.08,346.71 657.03,346.36 657.97,346.01 658.92,345.67 659.86,345.32 660.81,344.97 661.76,344.63 662.70,344.28 663.65,343.93 664.59,343.58 665.54,343.23 666.48,342.89 667.43,342.54 668.37,342.19 669.32,341.84 670.26,341.49 671.20,341.14 672.15,340.79 673.09,340.44 674.04,340.09 674.98,339.74 675.92,339.38 676.87,339.03 677.81,338.68 678.75,338.32 679.70,337.97 680.64,337.61 681.58,337.26 682.53,336.90 683.47,336.55 684.41,336.19 685.35,335.83 686.29,335.48 687.24,335.12 688.18,334.76 689.12,334.40 690.06,334.04 691.00,333.68 691.94,333.31 692.88,332.95 693.82,332.59 694.76,332.22 695.70,331.86 696.65,331.49 697.58,331.13 698.52,330.76 699.46,330.39 700.40,330.02 701.34,329.65 702.28,329.28 703.22,328.91 704.16,328.54 705.10,328.16 706.04,327.79 706.97,327.41 707.91,327.04 708.85,326.66 709.79,326.28 710.72,325.90 711.66,325.52 712.60,325.14 713.53,324.76 714.47,324.37 715.41,323.99 716.34,323.60 717.28,323.22 718.21,322.83 719.15,322.44 720.08,322.05 721.02,321.66 721.80,321.00" fill="none" stroke="#f00" stroke-width="1.6" stroke-linejoin="round"/>
<rect x="639.1" y="457.2" width="77.9" height="76.1" fill="#fff" stroke="#555" stroke-width="1"/>
<path d="M643.1,465.6H663.8" stroke="#00f" stroke-width="1.6"/>
<path d="M643.1,483.8H663.8" stroke="#f00" stroke-width="1.6"/>
<path d="M641.6,504.5H661.6" stroke="#00f" stroke-width="1.6" stroke-dasharray="8.2 3.7"/>
<path d="M641.6,522.2H661.6" stroke="#f00" stroke-width="1.6" stroke-dasharray="8.2 3.7"/>
<text x="667.60" y="469.80" font-size="12.0">I</text>
<text x="670.90" y="473.60" font-size="9.2" textLength="19.6" lengthAdjust="spacingAndGlyphs">diff,A</text>
<text x="691.60" y="469.80" font-size="12.0" textLength="21.0" lengthAdjust="spacingAndGlyphs">-FW</text>
<text x="667.60" y="488.00" font-size="12.0">I</text>
<text x="670.90" y="491.80" font-size="9.2" textLength="19.6" lengthAdjust="spacingAndGlyphs">diff,A</text>
<text x="691.60" y="488.00" font-size="12.0" textLength="21.0" lengthAdjust="spacingAndGlyphs">-BW</text>
<text x="667.60" y="508.70" font-size="12.0">I</text>
<text x="670.90" y="512.50" font-size="9.2" textLength="20.8" lengthAdjust="spacingAndGlyphs">diff,D</text>
<text x="693.00" y="508.70" font-size="12.0" textLength="21.0" lengthAdjust="spacingAndGlyphs">-FW</text>
<text x="667.60" y="526.40" font-size="12.0">I</text>
<text x="670.90" y="530.20" font-size="9.2" textLength="20.8" lengthAdjust="spacingAndGlyphs">diff,D</text>
<text x="693.00" y="526.40" font-size="12.0" textLength="21.0" lengthAdjust="spacingAndGlyphs">-BW</text>
<g transform="translate(382.0,456.2) rotate(-90)">
<text x="0.00" y="0.00" font-size="17" textLength="36.4" lengthAdjust="spacingAndGlyphs">LogII</text>
<text x="38.80" y="-8.50" font-size="12.9" textLength="17.6" lengthAdjust="spacingAndGlyphs">OX</text>
<text x="37.90" y="8.60" font-size="12.2" textLength="17.4" lengthAdjust="spacingAndGlyphs">diff</text>
<text x="59.60" y="0.00" font-size="17" textLength="25.4" lengthAdjust="spacingAndGlyphs">[A]I</text>
</g>
<text x="548.80" y="566.60" font-size="16.8" textLength="11.6" lengthAdjust="spacingAndGlyphs">V</text>
<text x="560.40" y="573.40" font-size="13" textLength="13.6" lengthAdjust="spacingAndGlyphs">ds</text>
<text x="576.30" y="566.60" font-size="16.8" textLength="19.4" lengthAdjust="spacingAndGlyphs">[V]</text>
<text x="371.0" y="300.9" font-size="21.5" font-weight="bold">d</text>
</svg>
</body></html>
